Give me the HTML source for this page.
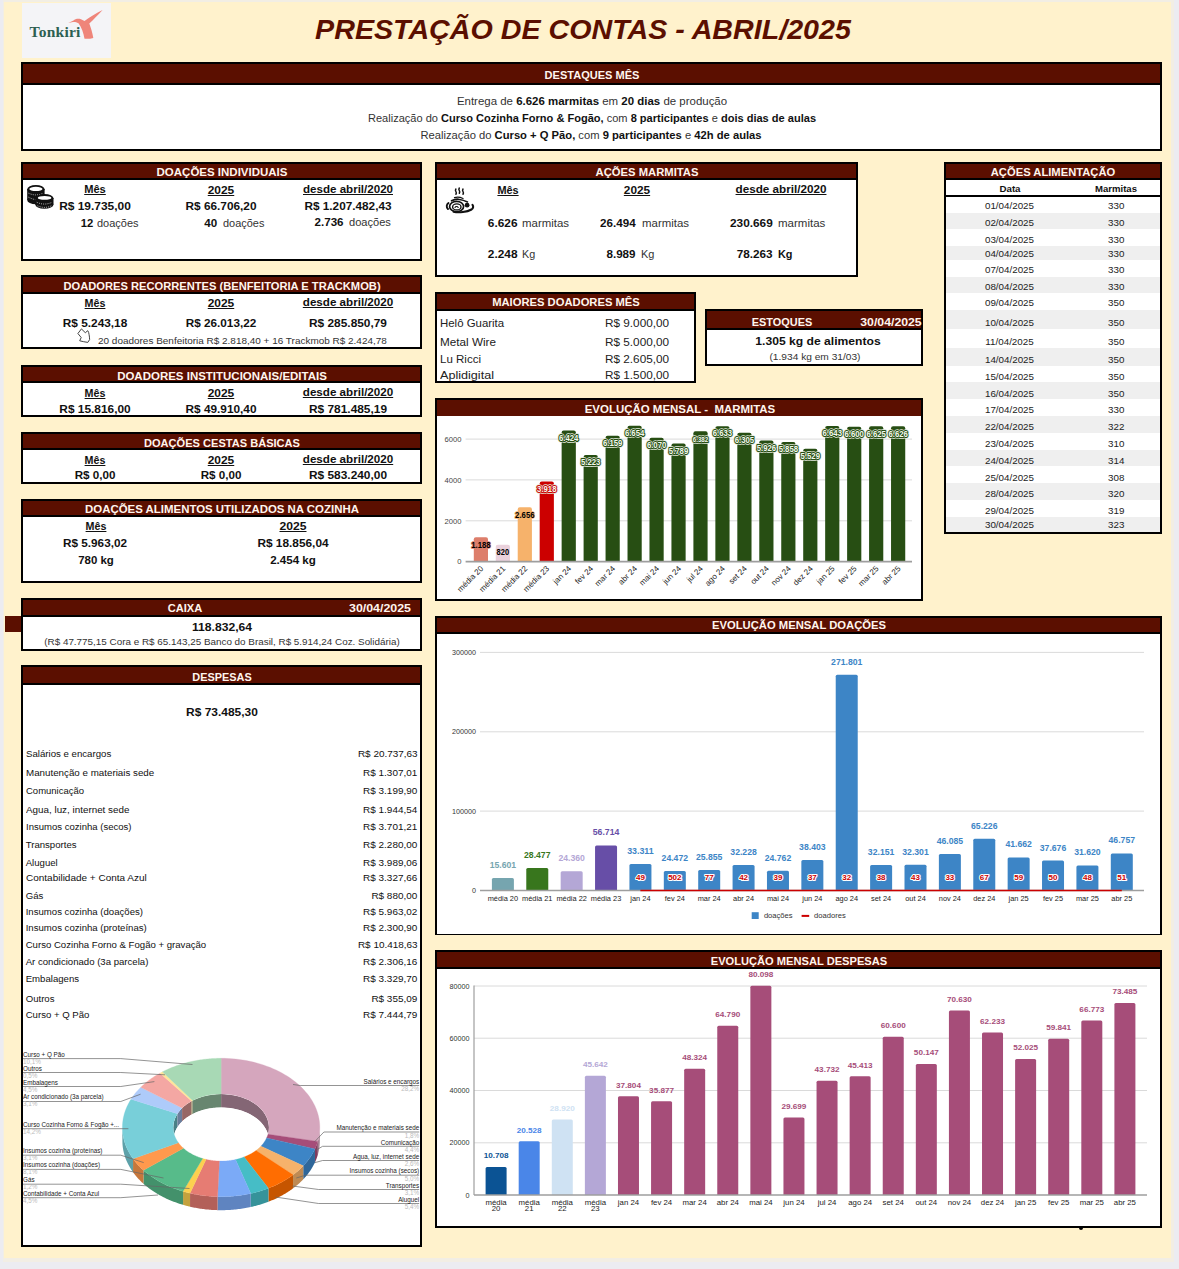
<!DOCTYPE html>
<html><head><meta charset="utf-8"><style>
html,body{margin:0;padding:0;}
body{width:1179px;height:1269px;position:relative;overflow:hidden;background:#EDEDF2;font-family:"Liberation Sans", sans-serif;}
.t{position:absolute;white-space:nowrap;}
.box{position:absolute;box-sizing:border-box;background:#fff;}
.hdr{position:absolute;background:#5B0F00;}
.hline{position:absolute;}
.u{text-decoration:underline;text-underline-offset:0.6px;text-decoration-thickness:1px;}
svg{position:absolute;}
</style></head><body>
<div style="position:absolute;left:0px;top:0px;width:1179px;height:1269px;background:#ECECF1;"></div>
<div style="position:absolute;left:3px;top:0px;width:1171px;height:1262px;background:#F2EEE4;"></div>
<div style="position:absolute;left:4px;top:2px;width:1167px;height:1256px;background:#FFF2CC;"></div>
<div style="position:absolute;left:22px;top:3px;width:89px;height:55px;background:#F4F4F7;"></div>
<svg style="left:22px;top:3px" width="89" height="55" viewBox="22 3 89 55"><path d="M68.3 23 L73.5 20.6 C75 19 78 18.3 81 19.2 L84.5 21 C90 17 96 13 102.6 10 C98 15 93 20 89.3 23.6 C91 28 92.5 33 93.3 38 C90.5 38.8 87 39 84.5 38.7 C83.5 33 81.5 27 78.5 23.2 C76.5 22 74.5 21.8 73 22 Z" fill="#EF857A"/></svg>
<div class="t " style="top:22.13px;font-size:15.5px;line-height:19px;color:#2C5F52;font-weight:bold;left:29.5px;font-family:'Liberation Serif',serif;letter-spacing:0.25px;">Tonkiri</div>
<div class="t " style="top:12.88px;font-size:27.2px;line-height:34px;color:#5B0F00;left:183px;width:800px;text-align:center;transform:scaleX(1.0534);transform-origin:center;font-style:italic;"><span style="font-weight:bold;">PRESTAÇÃO DE CONTAS - ABRIL/2025</span></div>
<div class="box" style="left:21px;top:62px;width:1141px;height:89px;border:2px solid #000;"></div>
<div class="hdr" style="left:23px;top:64px;width:1137px;height:19px;"></div>
<div class="hline" style="left:21px;top:83px;width:1141px;height:2px;background:#000"></div>
<div class="t " style="top:69.26px;font-size:10.5px;line-height:13px;color:#FFF5EE;font-weight:bold;left:191.89999999999998px;width:800px;text-align:center;transform:scaleX(1.0506);transform-origin:center;">DESTAQUES MÊS</div>
<div class="t " style="top:94.12px;font-size:11.2px;line-height:14px;color:#333;left:191.5px;width:800px;text-align:center;transform:scaleX(1.0246);transform-origin:center;">Entrega de <span style="font-weight:bold;color:#111;">6.626 marmitas</span> em <span style="font-weight:bold;color:#111;">20 dias</span> de produção</div>
<div class="t " style="top:111.02px;font-size:11.2px;line-height:14px;color:#333;left:191.79999999999995px;width:800px;text-align:center;transform:scaleX(0.9872);transform-origin:center;">Realização do <span style="font-weight:bold;color:#111;">Curso Cozinha Forno &amp; Fogão,</span> com <span style="font-weight:bold;color:#111;">8 participantes</span> e <span style="font-weight:bold;color:#111;">dois dias de aulas</span></div>
<div class="t " style="top:128.02px;font-size:11.2px;line-height:14px;color:#333;left:191.29999999999995px;width:800px;text-align:center;transform:scaleX(1.002);transform-origin:center;">Realização do <span style="font-weight:bold;color:#111;">Curso + Q Pão,</span> com <span style="font-weight:bold;color:#111;">9 participantes</span> e <span style="font-weight:bold;color:#111;">42h de aulas</span></div>
<div class="box" style="left:21px;top:162px;width:401px;height:99px;border:2px solid #000;"></div>
<div class="hdr" style="left:23px;top:164px;width:397px;height:14px;"></div>
<div class="hline" style="left:21px;top:178px;width:401px;height:2px;background:#000"></div>
<div class="t " style="top:164.86px;font-size:10.8px;line-height:14px;color:#FFF5EE;font-weight:bold;left:-178.25px;width:800px;text-align:center;transform:scaleX(1.0641);transform-origin:center;">DOAÇÕES INDIVIDUAIS</div>
<div class="t " style="top:183.46px;font-size:10.5px;line-height:13px;color:#111;font-weight:bold;left:-305.2px;width:800px;text-align:center;transform:scaleX(1.0575);transform-origin:center;"><span class="u">Mês</span></div>
<div class="t " style="top:183.76px;font-size:10.5px;line-height:13px;color:#111;font-weight:bold;left:-179px;width:800px;text-align:center;transform:scaleX(1.1345);transform-origin:center;"><span class="u">2025</span></div>
<div class="t " style="top:183.26px;font-size:10.5px;line-height:13px;color:#111;font-weight:bold;left:-52px;width:800px;text-align:center;transform:scaleX(1.1014);transform-origin:center;"><span class="u">desde abril/2020</span></div>
<div class="t " style="top:198.99px;font-size:11.0px;line-height:14px;color:#111;font-weight:bold;left:-304.8px;width:800px;text-align:center;transform:scaleX(1.0855);transform-origin:center;">R$ 19.735,00</div>
<div class="t " style="top:199.09px;font-size:11.0px;line-height:14px;color:#111;font-weight:bold;left:-179px;width:800px;text-align:center;transform:scaleX(1.0734);transform-origin:center;">R$ 66.706,20</div>
<div class="t " style="top:198.99px;font-size:11.0px;line-height:14px;color:#111;font-weight:bold;left:-52.19999999999999px;width:800px;text-align:center;transform:scaleX(1.0695);transform-origin:center;">R$ 1.207.482,43</div>
<div class="t " style="top:215.99px;font-size:11.0px;line-height:14px;color:#111;font-weight:bold;right:1086px;text-align:right;transform:scaleX(1.0216);transform-origin:right;">12</div>
<div class="t " style="top:215.99px;font-size:11.0px;line-height:14px;color:#333;left:97px;transform:scaleX(0.9979);transform-origin:left;">doações</div>
<div class="t " style="top:216.39px;font-size:11.0px;line-height:14px;color:#111;font-weight:bold;right:961.7px;text-align:right;transform:scaleX(1.0543);transform-origin:right;">40</div>
<div class="t " style="top:216.39px;font-size:11.0px;line-height:14px;color:#333;left:222.8px;transform:scaleX(0.9955);transform-origin:left;">doações</div>
<div class="t " style="top:215.49px;font-size:11.0px;line-height:14px;color:#111;font-weight:bold;right:835px;text-align:right;transform:scaleX(1.0535);transform-origin:right;">2.736</div>
<div class="t " style="top:215.49px;font-size:11.0px;line-height:14px;color:#333;left:349px;transform:scaleX(1.0075);transform-origin:left;">doações</div>
<svg style="left:25px;top:184px" width="32" height="28" viewBox="0 0 32 28"><g fill="#111"><ellipse cx="10.9" cy="5.2" rx="8.7" ry="4.3"/><rect x="2.2" y="5.2" width="17.4" height="10.8"/><ellipse cx="10.9" cy="16" rx="8.7" ry="4.3"/></g><ellipse cx="10.9" cy="4.9" rx="6.6" ry="2.1" fill="#fff"/><g fill="none" stroke="#fff" stroke-width="0.8" stroke-dasharray="0.9 1.3"><path d="M3.5 9.2 Q10.9 12.6 18.3 9.2"/><path d="M3.5 13.2 Q8 15.5 12 15.8"/></g><g fill="#111" stroke="#fff" stroke-width="0.0"><ellipse cx="19.4" cy="14.3" rx="9.1" ry="4.3"/><rect x="10.3" y="14.3" width="18.2" height="6.2"/><ellipse cx="19.4" cy="20.5" rx="9.1" ry="4.3"/></g><ellipse cx="19.6" cy="13.9" rx="6.8" ry="1.9" fill="#fff"/><g fill="none" stroke="#fff" stroke-width="0.8" stroke-dasharray="0.9 1.3"><path d="M11.8 18.3 Q19.4 21.8 27 18.3"/><path d="M12.5 21.8 Q19.4 25 26.5 21.8"/></g></svg>
<div class="box" style="left:21px;top:275px;width:401px;height:74px;border:2px solid #000;"></div>
<div class="hdr" style="left:23px;top:277px;width:397px;height:15px;"></div>
<div class="hline" style="left:21px;top:292px;width:401px;height:2px;background:#000"></div>
<div class="t " style="top:279.26px;font-size:10.8px;line-height:14px;color:#FFF5EE;font-weight:bold;left:-178.45000000000002px;width:800px;text-align:center;transform:scaleX(1.0328);transform-origin:center;">DOADORES RECORRENTES (BENFEITORIA E TRACKMOB)</div>
<div class="t " style="top:296.86px;font-size:10.5px;line-height:13px;color:#111;font-weight:bold;left:-304.6px;width:800px;text-align:center;transform:scaleX(1.0183);transform-origin:center;"><span class="u">Mês</span></div>
<div class="t " style="top:296.66px;font-size:10.5px;line-height:13px;color:#111;font-weight:bold;left:-179px;width:800px;text-align:center;transform:scaleX(1.1345);transform-origin:center;"><span class="u">2025</span></div>
<div class="t " style="top:296.46px;font-size:10.5px;line-height:13px;color:#111;font-weight:bold;left:-52.19999999999999px;width:800px;text-align:center;transform:scaleX(1.1063);transform-origin:center;"><span class="u">desde abril/2020</span></div>
<div class="t " style="top:315.99px;font-size:11.0px;line-height:14px;color:#111;font-weight:bold;left:-304.8px;width:800px;text-align:center;transform:scaleX(1.0761);transform-origin:center;">R$ 5.243,18</div>
<div class="t " style="top:315.79px;font-size:11.0px;line-height:14px;color:#111;font-weight:bold;left:-179px;width:800px;text-align:center;transform:scaleX(1.0673);transform-origin:center;">R$ 26.013,22</div>
<div class="t " style="top:315.69px;font-size:11.0px;line-height:14px;color:#111;font-weight:bold;left:-52.39999999999998px;width:800px;text-align:center;transform:scaleX(1.0794);transform-origin:center;">R$ 285.850,79</div>
<div class="t " style="top:334.91px;font-size:9.2px;line-height:12px;color:#333;left:97.7px;transform:scaleX(1.0843);transform-origin:left;">20 doadores Benfeitoria R$ 2.818,40 + 16 Trackmob R$ 2.424,78</div>
<svg style="left:76px;top:328px" width="16" height="17" viewBox="0 0 16 17"><path d="M5.45 0.9 L9.3 4.7 L11.8 2.7 C12.6 4 13 5.3 13.1 6.7 C13.4 8.3 13.6 10 13.6 11.6 L11.8 14.4 C9 14 6.5 13.5 3.7 12.8 L5.2 9.5 L1.9 5.5 Z" fill="none" stroke="#444" stroke-width="1.0" stroke-linejoin="round"/></svg>
<div class="box" style="left:21px;top:365px;width:401px;height:52px;border:2px solid #000;"></div>
<div class="hdr" style="left:23px;top:367px;width:397px;height:14px;"></div>
<div class="hline" style="left:21px;top:381px;width:401px;height:2px;background:#000"></div>
<div class="t " style="top:369.26px;font-size:10.8px;line-height:14px;color:#FFF5EE;font-weight:bold;left:-177.9px;width:800px;text-align:center;transform:scaleX(1.0638);transform-origin:center;">DOADORES INSTITUCIONAIS/EDITAIS</div>
<div class="t " style="top:386.86px;font-size:10.5px;line-height:13px;color:#111;font-weight:bold;left:-304.6px;width:800px;text-align:center;transform:scaleX(1.0183);transform-origin:center;"><span class="u">Mês</span></div>
<div class="t " style="top:386.66px;font-size:10.5px;line-height:13px;color:#111;font-weight:bold;left:-179px;width:800px;text-align:center;transform:scaleX(1.1345);transform-origin:center;"><span class="u">2025</span></div>
<div class="t " style="top:386.46px;font-size:10.5px;line-height:13px;color:#111;font-weight:bold;left:-52.19999999999999px;width:800px;text-align:center;transform:scaleX(1.1063);transform-origin:center;"><span class="u">desde abril/2020</span></div>
<div class="t " style="top:401.79px;font-size:11.0px;line-height:14px;color:#111;font-weight:bold;left:-304.8px;width:800px;text-align:center;transform:scaleX(1.0794);transform-origin:center;">R$ 15.816,00</div>
<div class="t " style="top:401.79px;font-size:11.0px;line-height:14px;color:#111;font-weight:bold;left:-179px;width:800px;text-align:center;transform:scaleX(1.0749);transform-origin:center;">R$ 49.910,40</div>
<div class="t " style="top:401.79px;font-size:11.0px;line-height:14px;color:#111;font-weight:bold;left:-52.39999999999998px;width:800px;text-align:center;transform:scaleX(1.0808);transform-origin:center;">R$ 781.485,19</div>
<div class="box" style="left:21px;top:432px;width:401px;height:52px;border:2px solid #000;"></div>
<div class="hdr" style="left:23px;top:434px;width:397px;height:14px;"></div>
<div class="hline" style="left:21px;top:448px;width:401px;height:2px;background:#000"></div>
<div class="t " style="top:435.76px;font-size:10.8px;line-height:14px;color:#FFF5EE;font-weight:bold;left:-178.2px;width:800px;text-align:center;transform:scaleX(1.0248);transform-origin:center;">DOAÇÕES CESTAS BÁSICAS</div>
<div class="t " style="top:453.66px;font-size:10.5px;line-height:13px;color:#111;font-weight:bold;left:-304.6px;width:800px;text-align:center;transform:scaleX(1.0183);transform-origin:center;"><span class="u">Mês</span></div>
<div class="t " style="top:453.66px;font-size:10.5px;line-height:13px;color:#111;font-weight:bold;left:-179px;width:800px;text-align:center;transform:scaleX(1.1345);transform-origin:center;"><span class="u">2025</span></div>
<div class="t " style="top:453.46px;font-size:10.5px;line-height:13px;color:#111;font-weight:bold;left:-52.19999999999999px;width:800px;text-align:center;transform:scaleX(1.1063);transform-origin:center;"><span class="u">desde abril/2020</span></div>
<div class="t " style="top:467.89px;font-size:11.0px;line-height:14px;color:#111;font-weight:bold;left:-304.8px;width:800px;text-align:center;transform:scaleX(1.0564);transform-origin:center;">R$ 0,00</div>
<div class="t " style="top:467.89px;font-size:11.0px;line-height:14px;color:#111;font-weight:bold;left:-179px;width:800px;text-align:center;transform:scaleX(1.0564);transform-origin:center;">R$ 0,00</div>
<div class="t " style="top:467.89px;font-size:11.0px;line-height:14px;color:#111;font-weight:bold;left:-52.39999999999998px;width:800px;text-align:center;transform:scaleX(1.0808);transform-origin:center;">R$ 583.240,00</div>
<div class="box" style="left:21px;top:499px;width:401px;height:84px;border:2px solid #000;"></div>
<div class="hdr" style="left:23px;top:501px;width:397px;height:14px;"></div>
<div class="hline" style="left:21px;top:515px;width:401px;height:2px;background:#000"></div>
<div class="t " style="top:502.06px;font-size:10.8px;line-height:14px;color:#FFF5EE;font-weight:bold;left:-177.75px;width:800px;text-align:center;transform:scaleX(1.0583);transform-origin:center;">DOAÇÕES ALIMENTOS UTILIZADOS NA COZINHA</div>
<div class="t " style="top:520.46px;font-size:10.5px;line-height:13px;color:#111;font-weight:bold;left:-304.5px;width:800px;text-align:center;transform:scaleX(1.0183);transform-origin:center;"><span class="u">Mês</span></div>
<div class="t " style="top:520.46px;font-size:10.5px;line-height:13px;color:#111;font-weight:bold;left:-106.80000000000001px;width:800px;text-align:center;transform:scaleX(1.1559);transform-origin:center;"><span class="u">2025</span></div>
<div class="t " style="top:536.39px;font-size:11.0px;line-height:14px;color:#111;font-weight:bold;left:-304.6px;width:800px;text-align:center;transform:scaleX(1.0678);transform-origin:center;">R$ 5.963,02</div>
<div class="t " style="top:536.39px;font-size:11.0px;line-height:14px;color:#111;font-weight:bold;left:-106.80000000000001px;width:800px;text-align:center;transform:scaleX(1.0779);transform-origin:center;">R$ 18.856,04</div>
<div class="t " style="top:553.39px;font-size:11.0px;line-height:14px;color:#111;font-weight:bold;left:-304.5px;width:800px;text-align:center;transform:scaleX(1.0395);transform-origin:center;">780 kg</div>
<div class="t " style="top:553.39px;font-size:11.0px;line-height:14px;color:#111;font-weight:bold;left:-106.80000000000001px;width:800px;text-align:center;transform:scaleX(1.0525);transform-origin:center;">2.454 kg</div>
<div style="position:absolute;left:5px;top:616px;width:17px;height:16px;background:#5B0F00;"></div>
<div class="box" style="left:21px;top:598px;width:401px;height:53px;border:2px solid #000;"></div>
<div class="hdr" style="left:23px;top:600px;width:397px;height:15px;"></div>
<div class="hline" style="left:21px;top:615px;width:401px;height:2px;background:#000"></div>
<div class="t " style="top:601.16px;font-size:10.8px;line-height:14px;color:#FFF5EE;font-weight:bold;left:-214.89999999999998px;width:800px;text-align:center;transform:scaleX(1.0297);transform-origin:center;">CAIXA</div>
<div class="t " style="top:601.16px;font-size:10.8px;line-height:14px;color:#FFF5EE;font-weight:bold;left:-20.0px;width:800px;text-align:center;transform:scaleX(1.147);transform-origin:center;">30/04/2025</div>
<div class="t " style="top:619.99px;font-size:11.0px;line-height:14px;color:#111;font-weight:bold;left:-178.5px;width:800px;text-align:center;transform:scaleX(1.1038);transform-origin:center;">118.832,64</div>
<div class="t " style="top:636.78px;font-size:9.0px;line-height:11px;color:#333;left:-177.8px;width:800px;text-align:center;transform:scaleX(1.0965);transform-origin:center;">(R$ 47.775,15 Cora e R$ 65.143,25 Banco do Brasil, R$ 5.914,24 Coz. Solidária)</div>
<div class="box" style="left:21px;top:665px;width:401px;height:582px;border:2px solid #000;"></div>
<div class="hdr" style="left:23px;top:667px;width:397px;height:16px;"></div>
<div class="hline" style="left:21px;top:683px;width:401px;height:2px;background:#000"></div>
<div class="t " style="top:669.66px;font-size:10.8px;line-height:14px;color:#FFF5EE;font-weight:bold;left:-178.10000000000002px;width:800px;text-align:center;transform:scaleX(1.0099);transform-origin:center;">DESPESAS</div>
<div class="t " style="top:704.78px;font-size:11.6px;line-height:14px;color:#111;font-weight:bold;left:-178.1px;width:800px;text-align:center;transform:scaleX(1.0308);transform-origin:center;">R$ 73.485,30</div>
<div class="t " style="top:748.27px;font-size:9.6px;line-height:12px;color:#111;left:25.7px;transform:scaleX(1.0053);transform-origin:left;">Salários e encargos</div>
<div class="t " style="top:748.27px;font-size:9.6px;line-height:12px;color:#111;right:761.5px;text-align:right;transform:scaleX(1.036);transform-origin:right;">R$ 20.737,63</div>
<div class="t " style="top:766.67px;font-size:9.6px;line-height:12px;color:#111;left:25.7px;transform:scaleX(1.0187);transform-origin:left;">Manutenção e materiais sede</div>
<div class="t " style="top:766.67px;font-size:9.6px;line-height:12px;color:#111;right:761.5px;text-align:right;transform:scaleX(1.036);transform-origin:right;">R$ 1.307,01</div>
<div class="t " style="top:784.67px;font-size:9.6px;line-height:12px;color:#111;left:25.7px;transform:scaleX(0.9898);transform-origin:left;">Comunicação</div>
<div class="t " style="top:784.67px;font-size:9.6px;line-height:12px;color:#111;right:761.5px;text-align:right;transform:scaleX(1.036);transform-origin:right;">R$ 3.199,90</div>
<div class="t " style="top:803.67px;font-size:9.6px;line-height:12px;color:#111;left:25.7px;transform:scaleX(1.0261);transform-origin:left;">Agua, luz, internet sede</div>
<div class="t " style="top:803.67px;font-size:9.6px;line-height:12px;color:#111;right:761.5px;text-align:right;transform:scaleX(1.036);transform-origin:right;">R$ 1.944,54</div>
<div class="t " style="top:821.27px;font-size:9.6px;line-height:12px;color:#111;left:25.7px;transform:scaleX(0.9946);transform-origin:left;">Insumos cozinha (secos)</div>
<div class="t " style="top:821.27px;font-size:9.6px;line-height:12px;color:#111;right:761.5px;text-align:right;transform:scaleX(1.036);transform-origin:right;">R$ 3.701,21</div>
<div class="t " style="top:838.57px;font-size:9.6px;line-height:12px;color:#111;left:25.7px;transform:scaleX(1.0);transform-origin:left;">Transportes</div>
<div class="t " style="top:838.57px;font-size:9.6px;line-height:12px;color:#111;right:761.5px;text-align:right;transform:scaleX(1.036);transform-origin:right;">R$ 2.280,00</div>
<div class="t " style="top:856.67px;font-size:9.6px;line-height:12px;color:#111;left:25.7px;transform:scaleX(1.0);transform-origin:left;">Aluguel</div>
<div class="t " style="top:856.67px;font-size:9.6px;line-height:12px;color:#111;right:761.5px;text-align:right;transform:scaleX(1.036);transform-origin:right;">R$ 3.989,06</div>
<div class="t " style="top:872.47px;font-size:9.6px;line-height:12px;color:#111;left:25.7px;transform:scaleX(1.0406);transform-origin:left;">Contabilidade + Conta Azul</div>
<div class="t " style="top:872.47px;font-size:9.6px;line-height:12px;color:#111;right:761.5px;text-align:right;transform:scaleX(1.036);transform-origin:right;">R$ 3.327,66</div>
<div class="t " style="top:889.87px;font-size:9.6px;line-height:12px;color:#111;left:25.7px;transform:scaleX(1.0);transform-origin:left;">Gás</div>
<div class="t " style="top:889.87px;font-size:9.6px;line-height:12px;color:#111;right:761.5px;text-align:right;transform:scaleX(1.036);transform-origin:right;">R$ 880,00</div>
<div class="t " style="top:906.17px;font-size:9.6px;line-height:12px;color:#111;left:25.7px;transform:scaleX(1.0);transform-origin:left;">Insumos cozinha (doações)</div>
<div class="t " style="top:906.17px;font-size:9.6px;line-height:12px;color:#111;right:761.5px;text-align:right;transform:scaleX(1.036);transform-origin:right;">R$ 5.963,02</div>
<div class="t " style="top:922.47px;font-size:9.6px;line-height:12px;color:#111;left:25.7px;transform:scaleX(1.0);transform-origin:left;">Insumos cozinha (proteínas)</div>
<div class="t " style="top:922.47px;font-size:9.6px;line-height:12px;color:#111;right:761.5px;text-align:right;transform:scaleX(1.036);transform-origin:right;">R$ 2.300,90</div>
<div class="t " style="top:939.17px;font-size:9.6px;line-height:12px;color:#111;left:25.7px;transform:scaleX(1.0);transform-origin:left;">Curso Cozinha Forno &amp; Fogão + gravação</div>
<div class="t " style="top:939.17px;font-size:9.6px;line-height:12px;color:#111;right:761.5px;text-align:right;transform:scaleX(1.036);transform-origin:right;">R$ 10.418,63</div>
<div class="t " style="top:956.37px;font-size:9.6px;line-height:12px;color:#111;left:25.7px;transform:scaleX(1.0);transform-origin:left;">Ar condicionado (3a parcela)</div>
<div class="t " style="top:956.37px;font-size:9.6px;line-height:12px;color:#111;right:761.5px;text-align:right;transform:scaleX(1.036);transform-origin:right;">R$ 2.306,16</div>
<div class="t " style="top:973.07px;font-size:9.6px;line-height:12px;color:#111;left:25.7px;transform:scaleX(1.0);transform-origin:left;">Embalagens</div>
<div class="t " style="top:973.07px;font-size:9.6px;line-height:12px;color:#111;right:761.5px;text-align:right;transform:scaleX(1.036);transform-origin:right;">R$ 3.329,70</div>
<div class="t " style="top:993.07px;font-size:9.6px;line-height:12px;color:#111;left:25.7px;transform:scaleX(1.0);transform-origin:left;">Outros</div>
<div class="t " style="top:993.07px;font-size:9.6px;line-height:12px;color:#111;right:761.5px;text-align:right;transform:scaleX(1.036);transform-origin:right;">R$ 355,09</div>
<div class="t " style="top:1009.27px;font-size:9.6px;line-height:12px;color:#111;left:25.7px;transform:scaleX(1.0);transform-origin:left;">Curso + Q Pão</div>
<div class="t " style="top:1009.27px;font-size:9.6px;line-height:12px;color:#111;right:761.5px;text-align:right;transform:scaleX(1.036);transform-origin:right;">R$ 7.444,79</div>
<div class="box" style="left:435px;top:162px;width:423px;height:115px;border:2px solid #000;"></div>
<div class="hdr" style="left:437px;top:164px;width:419px;height:14px;"></div>
<div class="hline" style="left:435px;top:178px;width:423px;height:2px;background:#000"></div>
<div class="t " style="top:165.36px;font-size:10.8px;line-height:14px;color:#FFF5EE;font-weight:bold;left:246.8499999999999px;width:800px;text-align:center;transform:scaleX(1.0415);transform-origin:center;">AÇÕES MARMITAS</div>
<div class="t " style="top:183.86px;font-size:10.5px;line-height:13px;color:#111;font-weight:bold;left:108.39999999999998px;width:800px;text-align:center;transform:scaleX(1.0379);transform-origin:center;"><span class="u">Mês</span></div>
<div class="t " style="top:183.86px;font-size:10.5px;line-height:13px;color:#111;font-weight:bold;left:237.39999999999998px;width:800px;text-align:center;transform:scaleX(1.1259);transform-origin:center;"><span class="u">2025</span></div>
<div class="t " style="top:183.46px;font-size:10.5px;line-height:13px;color:#111;font-weight:bold;left:381.20000000000005px;width:800px;text-align:center;transform:scaleX(1.1124);transform-origin:center;"><span class="u">desde abril/2020</span></div>
<div class="t " style="top:215.89px;font-size:11.0px;line-height:14px;color:#111;font-weight:bold;right:661.7px;text-align:right;transform:scaleX(1.0789);transform-origin:right;">6.626</div>
<div class="t " style="top:215.89px;font-size:11.0px;line-height:14px;color:#333;left:522px;transform:scaleX(1.0392);transform-origin:left;">marmitas</div>
<div class="t " style="top:215.89px;font-size:11.0px;line-height:14px;color:#111;font-weight:bold;right:543px;text-align:right;transform:scaleX(1.0581);transform-origin:right;">26.494</div>
<div class="t " style="top:215.89px;font-size:11.0px;line-height:14px;color:#333;left:642px;transform:scaleX(1.0392);transform-origin:left;">marmitas</div>
<div class="t " style="top:215.89px;font-size:11.0px;line-height:14px;color:#111;font-weight:bold;right:406.6px;text-align:right;transform:scaleX(1.0764);transform-origin:right;">230.669</div>
<div class="t " style="top:215.89px;font-size:11.0px;line-height:14px;color:#333;left:777.7px;transform:scaleX(1.0459);transform-origin:left;">marmitas</div>
<div class="t " style="top:247.19px;font-size:11.0px;line-height:14px;color:#111;font-weight:bold;right:661.7px;text-align:right;transform:scaleX(1.0789);transform-origin:right;">2.248</div>
<div class="t " style="top:247.19px;font-size:11.0px;line-height:14px;color:#333;left:522px;transform:scaleX(0.9811);transform-origin:left;">Kg</div>
<div class="t " style="top:247.19px;font-size:11.0px;line-height:14px;color:#111;font-weight:bold;right:543px;text-align:right;transform:scaleX(1.0571);transform-origin:right;">8.989</div>
<div class="t " style="top:247.19px;font-size:11.0px;line-height:14px;color:#333;left:641px;transform:scaleX(0.9959);transform-origin:left;">Kg</div>
<div class="t " style="top:246.89px;font-size:11.0px;line-height:14px;color:#111;font-weight:bold;right:406.6px;text-align:right;transform:scaleX(1.067);transform-origin:right;">78.263</div>
<div class="t " style="top:246.89px;font-size:11.0px;line-height:14px;color:#111;font-weight:bold;left:777.7px;transform:scaleX(0.9889);transform-origin:left;">Kg</div>
<svg style="left:444px;top:186px" width="32" height="28" viewBox="0 0 32 28"><g fill="none" stroke="#111" stroke-linecap="round"><path d="M11.9 3 q-0.9 1.3 0 2.6 q0.9 1.3 0 2.6" stroke-width="1.5"/><path d="M15.3 2 q-0.9 1.3 0 2.6 q0.9 1.3 0 2.6" stroke-width="1.5"/><path d="M19 3 q-0.9 1.3 0 2.6 q0.9 1.3 0 2.6" stroke-width="1.5"/><path d="M9.5 25.8 C15 27 23 26 27.5 23.5 C29.5 22 29.5 20 28.5 18.8" stroke-width="2.1"/><path d="M4 23 C2 21 2.5 18.5 4.5 17" stroke-width="1.9"/><ellipse cx="12.6" cy="20.5" rx="7" ry="5.2" stroke-width="1.7"/><ellipse cx="12.8" cy="20.9" rx="4.2" ry="3" stroke-width="1.4"/><path d="M11 21.5 C11.5 20.3 13.5 20.2 14.2 21.5" stroke-width="1.1"/><path d="M7.5 14.8 C10 13.5 13 12.5 15.5 13.5 C18 13.8 21 14.8 23.5 16" stroke-width="1.6"/><path d="M10.5 11.6 C13 10.8 16 11 19 12.5" stroke-width="1.3"/></g><circle cx="23.1" cy="19.2" r="2.4" fill="#111"/></svg>
<div class="box" style="left:435px;top:292px;width:261px;height:91px;border:2px solid #000;"></div>
<div class="hdr" style="left:437px;top:294px;width:257px;height:15px;"></div>
<div class="hline" style="left:435px;top:309px;width:261px;height:2px;background:#000"></div>
<div class="t " style="top:295.46px;font-size:10.8px;line-height:14px;color:#FFF5EE;font-weight:bold;left:166.14999999999998px;width:800px;text-align:center;transform:scaleX(1.0386);transform-origin:center;">MAIORES DOADORES MÊS</div>
<div class="t " style="top:316.29px;font-size:11.0px;line-height:14px;color:#222;left:439.5px;transform:scaleX(1.038);transform-origin:left;">Helô Guarita</div>
<div class="t " style="top:316.29px;font-size:11.0px;line-height:14px;color:#222;left:604.7px;transform:scaleX(1.0695);transform-origin:left;">R$ 9.000,00</div>
<div class="t " style="top:335.39px;font-size:11.0px;line-height:14px;color:#222;left:439.5px;transform:scaleX(1.0654);transform-origin:left;">Metal Wire</div>
<div class="t " style="top:335.39px;font-size:11.0px;line-height:14px;color:#222;left:604.7px;transform:scaleX(1.0695);transform-origin:left;">R$ 5.000,00</div>
<div class="t " style="top:352.19px;font-size:11.0px;line-height:14px;color:#222;left:439.5px;transform:scaleX(1.048);transform-origin:left;">Lu Ricci</div>
<div class="t " style="top:352.19px;font-size:11.0px;line-height:14px;color:#222;left:604.7px;transform:scaleX(1.0695);transform-origin:left;">R$ 2.605,00</div>
<div class="t " style="top:367.99px;font-size:11.0px;line-height:14px;color:#222;left:439.5px;transform:scaleX(1.1469);transform-origin:left;">Aplidigital</div>
<div class="t " style="top:367.99px;font-size:11.0px;line-height:14px;color:#222;left:604.7px;transform:scaleX(1.0695);transform-origin:left;">R$ 1.500,00</div>
<div class="box" style="left:705px;top:309px;width:218px;height:57px;border:2px solid #000;"></div>
<div class="hdr" style="left:707px;top:311px;width:214px;height:17px;"></div>
<div class="hline" style="left:705px;top:328px;width:218px;height:2px;background:#000"></div>
<div class="t " style="top:315.26px;font-size:10.8px;line-height:14px;color:#FFF5EE;font-weight:bold;left:381.95000000000005px;width:800px;text-align:center;transform:scaleX(1.0114);transform-origin:center;">ESTOQUES</div>
<div class="t " style="top:315.26px;font-size:10.8px;line-height:14px;color:#FFF5EE;font-weight:bold;left:490.70000000000005px;width:800px;text-align:center;transform:scaleX(1.1359);transform-origin:center;">30/04/2025</div>
<div class="t " style="top:334.09px;font-size:11.0px;line-height:14px;color:#111;font-weight:bold;left:418.29999999999995px;width:800px;text-align:center;transform:scaleX(1.1027);transform-origin:center;">1.305 kg de alimentos</div>
<div class="t " style="top:351.17px;font-size:9.6px;line-height:12px;color:#333;left:414.9px;width:800px;text-align:center;transform:scaleX(1.0603);transform-origin:center;">(1.934 kg em 31/03)</div>
<div class="box" style="left:944px;top:162px;width:218px;height:372px;border:2px solid #000;"></div>
<div class="hdr" style="left:946px;top:164px;width:214px;height:14px;"></div>
<div class="hline" style="left:944px;top:178px;width:218px;height:2px;background:#000"></div>
<div class="t " style="top:164.86px;font-size:10.8px;line-height:14px;color:#FFF5EE;font-weight:bold;left:653.3499999999999px;width:800px;text-align:center;transform:scaleX(1.0375);transform-origin:center;">AÇÕES ALIMENTAÇÃO</div>
<div style="position:absolute;left:944px;top:195px;width:218px;height:2px;background:#000;"></div>
<div class="t " style="top:183.47px;font-size:9.6px;line-height:12px;color:#111;font-weight:bold;left:609.5px;width:800px;text-align:center;transform:scaleX(1.014);transform-origin:center;">Data</div>
<div class="t " style="top:183.47px;font-size:9.6px;line-height:12px;color:#111;font-weight:bold;left:716px;width:800px;text-align:center;transform:scaleX(0.9964);transform-origin:center;">Marmitas</div>
<div style="position:absolute;left:946px;top:212.7px;width:214px;height:16.600000000000023px;background:#EFEFEF;"></div>
<div style="position:absolute;left:946px;top:245.8px;width:214px;height:14.699999999999989px;background:#EFEFEF;"></div>
<div style="position:absolute;left:946px;top:276.5px;width:214px;height:16.69999999999999px;background:#EFEFEF;"></div>
<div style="position:absolute;left:946px;top:309.8px;width:214px;height:19.5px;background:#EFEFEF;"></div>
<div style="position:absolute;left:946px;top:347.8px;width:214px;height:18.099999999999966px;background:#EFEFEF;"></div>
<div style="position:absolute;left:946px;top:382px;width:214px;height:17.100000000000023px;background:#EFEFEF;"></div>
<div style="position:absolute;left:946px;top:416.1px;width:214px;height:16.599999999999966px;background:#EFEFEF;"></div>
<div style="position:absolute;left:946px;top:449.6px;width:214px;height:16.799999999999955px;background:#EFEFEF;"></div>
<div style="position:absolute;left:946px;top:483px;width:214px;height:16.600000000000023px;background:#EFEFEF;"></div>
<div style="position:absolute;left:946px;top:516.6px;width:214px;height:15.600000000000023px;background:#EFEFEF;"></div>
<div class="t " style="top:200.30px;font-size:9.8px;line-height:12px;color:#222;left:609.5px;width:800px;text-align:center;">01/04/2025</div>
<div class="t " style="top:200.30px;font-size:9.8px;line-height:12px;color:#222;left:716.3px;width:800px;text-align:center;">330</div>
<div class="t " style="top:217.30px;font-size:9.8px;line-height:12px;color:#222;left:609.5px;width:800px;text-align:center;">02/04/2025</div>
<div class="t " style="top:217.30px;font-size:9.8px;line-height:12px;color:#222;left:716.3px;width:800px;text-align:center;">330</div>
<div class="t " style="top:234.10px;font-size:9.8px;line-height:12px;color:#222;left:609.5px;width:800px;text-align:center;">03/04/2025</div>
<div class="t " style="top:234.10px;font-size:9.8px;line-height:12px;color:#222;left:716.3px;width:800px;text-align:center;">330</div>
<div class="t " style="top:248.10px;font-size:9.8px;line-height:12px;color:#222;left:609.5px;width:800px;text-align:center;">04/04/2025</div>
<div class="t " style="top:248.10px;font-size:9.8px;line-height:12px;color:#222;left:716.3px;width:800px;text-align:center;">330</div>
<div class="t " style="top:264.30px;font-size:9.8px;line-height:12px;color:#222;left:609.5px;width:800px;text-align:center;">07/04/2025</div>
<div class="t " style="top:264.30px;font-size:9.8px;line-height:12px;color:#222;left:716.3px;width:800px;text-align:center;">330</div>
<div class="t " style="top:280.90px;font-size:9.8px;line-height:12px;color:#222;left:609.5px;width:800px;text-align:center;">08/04/2025</div>
<div class="t " style="top:280.90px;font-size:9.8px;line-height:12px;color:#222;left:716.3px;width:800px;text-align:center;">330</div>
<div class="t " style="top:297.30px;font-size:9.8px;line-height:12px;color:#222;left:609.5px;width:800px;text-align:center;">09/04/2025</div>
<div class="t " style="top:297.30px;font-size:9.8px;line-height:12px;color:#222;left:716.3px;width:800px;text-align:center;">350</div>
<div class="t " style="top:317.40px;font-size:9.8px;line-height:12px;color:#222;left:609.5px;width:800px;text-align:center;">10/04/2025</div>
<div class="t " style="top:317.40px;font-size:9.8px;line-height:12px;color:#222;left:716.3px;width:800px;text-align:center;">350</div>
<div class="t " style="top:335.90px;font-size:9.8px;line-height:12px;color:#222;left:609.5px;width:800px;text-align:center;">11/04/2025</div>
<div class="t " style="top:335.90px;font-size:9.8px;line-height:12px;color:#222;left:716.3px;width:800px;text-align:center;">350</div>
<div class="t " style="top:353.60px;font-size:9.8px;line-height:12px;color:#222;left:609.5px;width:800px;text-align:center;">14/04/2025</div>
<div class="t " style="top:353.60px;font-size:9.8px;line-height:12px;color:#222;left:716.3px;width:800px;text-align:center;">350</div>
<div class="t " style="top:370.60px;font-size:9.8px;line-height:12px;color:#222;left:609.5px;width:800px;text-align:center;">15/04/2025</div>
<div class="t " style="top:370.60px;font-size:9.8px;line-height:12px;color:#222;left:716.3px;width:800px;text-align:center;">350</div>
<div class="t " style="top:387.60px;font-size:9.8px;line-height:12px;color:#222;left:609.5px;width:800px;text-align:center;">16/04/2025</div>
<div class="t " style="top:387.60px;font-size:9.8px;line-height:12px;color:#222;left:716.3px;width:800px;text-align:center;">350</div>
<div class="t " style="top:404.30px;font-size:9.8px;line-height:12px;color:#222;left:609.5px;width:800px;text-align:center;">17/04/2025</div>
<div class="t " style="top:404.30px;font-size:9.8px;line-height:12px;color:#222;left:716.3px;width:800px;text-align:center;">330</div>
<div class="t " style="top:421.30px;font-size:9.8px;line-height:12px;color:#222;left:609.5px;width:800px;text-align:center;">22/04/2025</div>
<div class="t " style="top:421.30px;font-size:9.8px;line-height:12px;color:#222;left:716.3px;width:800px;text-align:center;">322</div>
<div class="t " style="top:437.50px;font-size:9.8px;line-height:12px;color:#222;left:609.5px;width:800px;text-align:center;">23/04/2025</div>
<div class="t " style="top:437.50px;font-size:9.8px;line-height:12px;color:#222;left:716.3px;width:800px;text-align:center;">310</div>
<div class="t " style="top:454.50px;font-size:9.8px;line-height:12px;color:#222;left:609.5px;width:800px;text-align:center;">24/04/2025</div>
<div class="t " style="top:454.50px;font-size:9.8px;line-height:12px;color:#222;left:716.3px;width:800px;text-align:center;">314</div>
<div class="t " style="top:471.50px;font-size:9.8px;line-height:12px;color:#222;left:609.5px;width:800px;text-align:center;">25/04/2025</div>
<div class="t " style="top:471.50px;font-size:9.8px;line-height:12px;color:#222;left:716.3px;width:800px;text-align:center;">308</div>
<div class="t " style="top:487.60px;font-size:9.8px;line-height:12px;color:#222;left:609.5px;width:800px;text-align:center;">28/04/2025</div>
<div class="t " style="top:487.60px;font-size:9.8px;line-height:12px;color:#222;left:716.3px;width:800px;text-align:center;">320</div>
<div class="t " style="top:504.60px;font-size:9.8px;line-height:12px;color:#222;left:609.5px;width:800px;text-align:center;">29/04/2025</div>
<div class="t " style="top:504.60px;font-size:9.8px;line-height:12px;color:#222;left:716.3px;width:800px;text-align:center;">319</div>
<div class="t " style="top:519.40px;font-size:9.8px;line-height:12px;color:#222;left:609.5px;width:800px;text-align:center;">30/04/2025</div>
<div class="t " style="top:519.40px;font-size:9.8px;line-height:12px;color:#222;left:716.3px;width:800px;text-align:center;">323</div>
<div class="box" style="left:435px;top:398px;width:488px;height:203px;border:2px solid #000;"></div>
<div class="hdr" style="left:437px;top:400px;width:484px;height:15.5px;"></div>
<div class="t " style="top:401.96px;font-size:10.8px;line-height:14px;color:#FFF5EE;font-weight:bold;left:280.29999999999995px;width:800px;text-align:center;transform:scaleX(1.0613);transform-origin:center;">EVOLUÇÃO MENSAL -  MARMITAS</div>
<svg style="left:0;top:0" width="1179" height="1269" viewBox="0 0 1179 1269"><line x1="465.6" x2="912" y1="520.8" y2="520.8" stroke="#DADADA" stroke-width="1"/><line x1="465.6" x2="912" y1="479.9" y2="479.9" stroke="#DADADA" stroke-width="1"/><line x1="465.6" x2="912" y1="439.1" y2="439.1" stroke="#DADADA" stroke-width="1"/><text x="461.5" y="564.3" font-size="7.6" fill="#444" text-anchor="end">0</text><text x="461.5" y="523.5" font-size="7.6" fill="#444" text-anchor="end">2000</text><text x="461.5" y="482.6" font-size="7.6" fill="#444" text-anchor="end">4000</text><text x="461.5" y="441.8" font-size="7.6" fill="#444" text-anchor="end">6000</text><path d="M473.80 561.6 V539.35 Q473.80 537.35 475.80 537.35 H486.00 Q488.00 537.35 488.00 539.35 V561.6 Z" fill="#DD7E6B"/><path d="M495.76 561.6 V546.86 Q495.76 544.86 497.76 544.86 H507.96 Q509.96 544.86 509.96 546.86 V561.6 Z" fill="#EAD1DC"/><path d="M517.72 561.6 V509.37 Q517.72 507.37 519.72 507.37 H529.92 Q531.92 507.37 531.92 509.37 V561.6 Z" fill="#F6B26B"/><path d="M539.68 561.6 V483.61 Q539.68 481.61 541.68 481.61 H551.88 Q553.88 481.61 553.88 483.61 V561.6 Z" fill="#CC0000"/><path d="M561.64 561.6 V432.44 Q561.64 430.44 563.64 430.44 H573.84 Q575.84 430.44 575.84 432.44 V561.6 Z" fill="#274E13"/><path d="M583.60 561.6 V456.96 Q583.60 454.96 585.60 454.96 H595.80 Q597.80 454.96 597.80 456.96 V561.6 Z" fill="#274E13"/><path d="M605.56 561.6 V437.85 Q605.56 435.85 607.56 435.85 H617.76 Q619.76 435.85 619.76 437.85 V561.6 Z" fill="#274E13"/><path d="M627.52 561.6 V427.75 Q627.52 425.75 629.52 425.75 H639.72 Q641.72 425.75 641.72 427.75 V561.6 Z" fill="#274E13"/><path d="M649.48 561.6 V439.67 Q649.48 437.67 651.48 437.67 H661.68 Q663.68 437.67 663.68 439.67 V561.6 Z" fill="#274E13"/><path d="M671.44 561.6 V445.41 Q671.44 443.41 673.44 443.41 H683.64 Q685.64 443.41 685.64 445.41 V561.6 Z" fill="#274E13"/><path d="M693.40 561.6 V433.30 Q693.40 431.30 695.40 431.30 H705.60 Q707.60 431.30 707.60 433.30 V561.6 Z" fill="#274E13"/><path d="M715.36 561.6 V428.18 Q715.36 426.18 717.36 426.18 H727.56 Q729.56 426.18 729.56 428.18 V561.6 Z" fill="#274E13"/><path d="M737.32 561.6 V434.87 Q737.32 432.87 739.32 432.87 H749.52 Q751.52 432.87 751.52 434.87 V561.6 Z" fill="#274E13"/><path d="M759.28 561.6 V442.61 Q759.28 440.61 761.28 440.61 H771.48 Q773.48 440.61 773.48 442.61 V561.6 Z" fill="#274E13"/><path d="M781.24 561.6 V444.00 Q781.24 442.00 783.24 442.00 H793.44 Q795.44 442.00 795.44 444.00 V561.6 Z" fill="#274E13"/><path d="M803.20 561.6 V450.72 Q803.20 448.72 805.20 448.72 H815.40 Q817.40 448.72 817.40 450.72 V561.6 Z" fill="#274E13"/><path d="M825.16 561.6 V427.97 Q825.16 425.97 827.16 425.97 H837.36 Q839.36 425.97 839.36 427.97 V561.6 Z" fill="#274E13"/><path d="M847.12 561.6 V428.85 Q847.12 426.85 849.12 426.85 H859.32 Q861.32 426.85 861.32 428.85 V561.6 Z" fill="#274E13"/><path d="M869.08 561.6 V428.34 Q869.08 426.34 871.08 426.34 H881.28 Q883.28 426.34 883.28 428.34 V561.6 Z" fill="#274E13"/><path d="M891.04 561.6 V428.32 Q891.04 426.32 893.04 426.32 H903.24 Q905.24 426.32 905.24 428.32 V561.6 Z" fill="#274E13"/><line x1="465.6" x2="912" y1="561.6" y2="561.6" stroke="#9E9E9E" stroke-width="1.6"/><text x="480.90" y="547.55" font-size="8.4" font-weight="bold" text-anchor="middle" textLength="19.4" lengthAdjust="spacingAndGlyphs" fill="#000" stroke="#DD7E6B" stroke-width="1.6" stroke-linejoin="round" paint-order="stroke">1.188</text><text x="502.86" y="555.06" font-size="8.4" font-weight="bold" text-anchor="middle" textLength="12.5" lengthAdjust="spacingAndGlyphs" fill="#000" stroke="#EAD1DC" stroke-width="1.6" stroke-linejoin="round" paint-order="stroke">820</text><text x="524.82" y="517.57" font-size="8.4" font-weight="bold" text-anchor="middle" textLength="19.4" lengthAdjust="spacingAndGlyphs" fill="#000" stroke="#F6B26B" stroke-width="1.6" stroke-linejoin="round" paint-order="stroke">2.656</text><text x="546.78" y="491.81" font-size="8.4" font-weight="bold" text-anchor="middle" textLength="19.4" lengthAdjust="spacingAndGlyphs" fill="#CC0000" stroke="#E2E8DC" stroke-width="3.4" stroke-linejoin="round">3.918</text><text x="546.78" y="491.81" font-size="8.4" font-weight="bold" text-anchor="middle" textLength="19.4" lengthAdjust="spacingAndGlyphs" fill="#F4FAEE" stroke="#CC0000" stroke-width="2.0" stroke-linejoin="round" paint-order="stroke">3.918</text><text x="568.74" y="440.64" font-size="8.4" font-weight="bold" text-anchor="middle" textLength="19.4" lengthAdjust="spacingAndGlyphs" fill="#274E13" stroke="#E2E8DC" stroke-width="3.4" stroke-linejoin="round">6.424</text><text x="568.74" y="440.64" font-size="8.4" font-weight="bold" text-anchor="middle" textLength="19.4" lengthAdjust="spacingAndGlyphs" fill="#F4FAEE" stroke="#274E13" stroke-width="2.0" stroke-linejoin="round" paint-order="stroke">6.424</text><text x="590.70" y="465.16" font-size="8.4" font-weight="bold" text-anchor="middle" textLength="19.4" lengthAdjust="spacingAndGlyphs" fill="#274E13" stroke="#E2E8DC" stroke-width="3.4" stroke-linejoin="round">5.223</text><text x="590.70" y="465.16" font-size="8.4" font-weight="bold" text-anchor="middle" textLength="19.4" lengthAdjust="spacingAndGlyphs" fill="#F4FAEE" stroke="#274E13" stroke-width="2.0" stroke-linejoin="round" paint-order="stroke">5.223</text><text x="612.66" y="446.05" font-size="8.4" font-weight="bold" text-anchor="middle" textLength="19.4" lengthAdjust="spacingAndGlyphs" fill="#274E13" stroke="#E2E8DC" stroke-width="3.4" stroke-linejoin="round">6.159</text><text x="612.66" y="446.05" font-size="8.4" font-weight="bold" text-anchor="middle" textLength="19.4" lengthAdjust="spacingAndGlyphs" fill="#F4FAEE" stroke="#274E13" stroke-width="2.0" stroke-linejoin="round" paint-order="stroke">6.159</text><text x="634.62" y="435.95" font-size="8.4" font-weight="bold" text-anchor="middle" textLength="19.4" lengthAdjust="spacingAndGlyphs" fill="#274E13" stroke="#E2E8DC" stroke-width="3.4" stroke-linejoin="round">6.654</text><text x="634.62" y="435.95" font-size="8.4" font-weight="bold" text-anchor="middle" textLength="19.4" lengthAdjust="spacingAndGlyphs" fill="#F4FAEE" stroke="#274E13" stroke-width="2.0" stroke-linejoin="round" paint-order="stroke">6.654</text><text x="656.58" y="447.87" font-size="8.4" font-weight="bold" text-anchor="middle" textLength="19.4" lengthAdjust="spacingAndGlyphs" fill="#274E13" stroke="#E2E8DC" stroke-width="3.4" stroke-linejoin="round">6.070</text><text x="656.58" y="447.87" font-size="8.4" font-weight="bold" text-anchor="middle" textLength="19.4" lengthAdjust="spacingAndGlyphs" fill="#F4FAEE" stroke="#274E13" stroke-width="2.0" stroke-linejoin="round" paint-order="stroke">6.070</text><text x="678.54" y="453.61" font-size="8.4" font-weight="bold" text-anchor="middle" textLength="19.4" lengthAdjust="spacingAndGlyphs" fill="#274E13" stroke="#E2E8DC" stroke-width="3.4" stroke-linejoin="round">5.789</text><text x="678.54" y="453.61" font-size="8.4" font-weight="bold" text-anchor="middle" textLength="19.4" lengthAdjust="spacingAndGlyphs" fill="#F4FAEE" stroke="#274E13" stroke-width="2.0" stroke-linejoin="round" paint-order="stroke">5.789</text><text x="700.50" y="441.50" font-size="6.6" font-weight="bold" text-anchor="middle" textLength="15.5" lengthAdjust="spacingAndGlyphs" fill="#274E13" stroke="#E2E8DC" stroke-width="3.4" stroke-linejoin="round">6.382</text><text x="700.50" y="441.50" font-size="6.6" font-weight="bold" text-anchor="middle" textLength="15.5" lengthAdjust="spacingAndGlyphs" fill="#F4FAEE" stroke="#274E13" stroke-width="2.0" stroke-linejoin="round" paint-order="stroke">6.382</text><text x="722.46" y="436.38" font-size="8.4" font-weight="bold" text-anchor="middle" textLength="19.4" lengthAdjust="spacingAndGlyphs" fill="#274E13" stroke="#E2E8DC" stroke-width="3.4" stroke-linejoin="round">6.633</text><text x="722.46" y="436.38" font-size="8.4" font-weight="bold" text-anchor="middle" textLength="19.4" lengthAdjust="spacingAndGlyphs" fill="#F4FAEE" stroke="#274E13" stroke-width="2.0" stroke-linejoin="round" paint-order="stroke">6.633</text><text x="744.42" y="443.07" font-size="8.4" font-weight="bold" text-anchor="middle" textLength="19.4" lengthAdjust="spacingAndGlyphs" fill="#274E13" stroke="#E2E8DC" stroke-width="3.4" stroke-linejoin="round">6.305</text><text x="744.42" y="443.07" font-size="8.4" font-weight="bold" text-anchor="middle" textLength="19.4" lengthAdjust="spacingAndGlyphs" fill="#F4FAEE" stroke="#274E13" stroke-width="2.0" stroke-linejoin="round" paint-order="stroke">6.305</text><text x="766.38" y="450.81" font-size="8.4" font-weight="bold" text-anchor="middle" textLength="19.4" lengthAdjust="spacingAndGlyphs" fill="#274E13" stroke="#E2E8DC" stroke-width="3.4" stroke-linejoin="round">5.926</text><text x="766.38" y="450.81" font-size="8.4" font-weight="bold" text-anchor="middle" textLength="19.4" lengthAdjust="spacingAndGlyphs" fill="#F4FAEE" stroke="#274E13" stroke-width="2.0" stroke-linejoin="round" paint-order="stroke">5.926</text><text x="788.34" y="452.20" font-size="8.4" font-weight="bold" text-anchor="middle" textLength="19.4" lengthAdjust="spacingAndGlyphs" fill="#274E13" stroke="#E2E8DC" stroke-width="3.4" stroke-linejoin="round">5.858</text><text x="788.34" y="452.20" font-size="8.4" font-weight="bold" text-anchor="middle" textLength="19.4" lengthAdjust="spacingAndGlyphs" fill="#F4FAEE" stroke="#274E13" stroke-width="2.0" stroke-linejoin="round" paint-order="stroke">5.858</text><text x="810.30" y="458.92" font-size="8.4" font-weight="bold" text-anchor="middle" textLength="19.4" lengthAdjust="spacingAndGlyphs" fill="#274E13" stroke="#E2E8DC" stroke-width="3.4" stroke-linejoin="round">5.529</text><text x="810.30" y="458.92" font-size="8.4" font-weight="bold" text-anchor="middle" textLength="19.4" lengthAdjust="spacingAndGlyphs" fill="#F4FAEE" stroke="#274E13" stroke-width="2.0" stroke-linejoin="round" paint-order="stroke">5.529</text><text x="832.26" y="436.17" font-size="8.4" font-weight="bold" text-anchor="middle" textLength="19.4" lengthAdjust="spacingAndGlyphs" fill="#274E13" stroke="#E2E8DC" stroke-width="3.4" stroke-linejoin="round">6.643</text><text x="832.26" y="436.17" font-size="8.4" font-weight="bold" text-anchor="middle" textLength="19.4" lengthAdjust="spacingAndGlyphs" fill="#F4FAEE" stroke="#274E13" stroke-width="2.0" stroke-linejoin="round" paint-order="stroke">6.643</text><text x="854.22" y="437.05" font-size="8.4" font-weight="bold" text-anchor="middle" textLength="19.4" lengthAdjust="spacingAndGlyphs" fill="#274E13" stroke="#E2E8DC" stroke-width="3.4" stroke-linejoin="round">6.600</text><text x="854.22" y="437.05" font-size="8.4" font-weight="bold" text-anchor="middle" textLength="19.4" lengthAdjust="spacingAndGlyphs" fill="#F4FAEE" stroke="#274E13" stroke-width="2.0" stroke-linejoin="round" paint-order="stroke">6.600</text><text x="876.18" y="436.54" font-size="8.4" font-weight="bold" text-anchor="middle" textLength="19.4" lengthAdjust="spacingAndGlyphs" fill="#274E13" stroke="#E2E8DC" stroke-width="3.4" stroke-linejoin="round">6.625</text><text x="876.18" y="436.54" font-size="8.4" font-weight="bold" text-anchor="middle" textLength="19.4" lengthAdjust="spacingAndGlyphs" fill="#F4FAEE" stroke="#274E13" stroke-width="2.0" stroke-linejoin="round" paint-order="stroke">6.625</text><text x="898.14" y="436.52" font-size="8.4" font-weight="bold" text-anchor="middle" textLength="19.4" lengthAdjust="spacingAndGlyphs" fill="#274E13" stroke="#E2E8DC" stroke-width="3.4" stroke-linejoin="round">6.626</text><text x="898.14" y="436.52" font-size="8.4" font-weight="bold" text-anchor="middle" textLength="19.4" lengthAdjust="spacingAndGlyphs" fill="#F4FAEE" stroke="#274E13" stroke-width="2.0" stroke-linejoin="round" paint-order="stroke">6.626</text><text x="483.90" y="569.10" font-size="8" fill="#222" text-anchor="end" transform="rotate(-45 483.90 569.10)">média 20</text><text x="505.86" y="569.10" font-size="8" fill="#222" text-anchor="end" transform="rotate(-45 505.86 569.10)">média 21</text><text x="527.82" y="569.10" font-size="8" fill="#222" text-anchor="end" transform="rotate(-45 527.82 569.10)">média 22</text><text x="549.78" y="569.10" font-size="8" fill="#222" text-anchor="end" transform="rotate(-45 549.78 569.10)">média 23</text><text x="571.74" y="569.10" font-size="8" fill="#222" text-anchor="end" transform="rotate(-45 571.74 569.10)">jan 24</text><text x="593.70" y="569.10" font-size="8" fill="#222" text-anchor="end" transform="rotate(-45 593.70 569.10)">fev 24</text><text x="615.66" y="569.10" font-size="8" fill="#222" text-anchor="end" transform="rotate(-45 615.66 569.10)">mar 24</text><text x="637.62" y="569.10" font-size="8" fill="#222" text-anchor="end" transform="rotate(-45 637.62 569.10)">abr 24</text><text x="659.58" y="569.10" font-size="8" fill="#222" text-anchor="end" transform="rotate(-45 659.58 569.10)">mai 24</text><text x="681.54" y="569.10" font-size="8" fill="#222" text-anchor="end" transform="rotate(-45 681.54 569.10)">jun 24</text><text x="703.50" y="569.10" font-size="8" fill="#222" text-anchor="end" transform="rotate(-45 703.50 569.10)">jul 24</text><text x="725.46" y="569.10" font-size="8" fill="#222" text-anchor="end" transform="rotate(-45 725.46 569.10)">ago 24</text><text x="747.42" y="569.10" font-size="8" fill="#222" text-anchor="end" transform="rotate(-45 747.42 569.10)">set 24</text><text x="769.38" y="569.10" font-size="8" fill="#222" text-anchor="end" transform="rotate(-45 769.38 569.10)">out 24</text><text x="791.34" y="569.10" font-size="8" fill="#222" text-anchor="end" transform="rotate(-45 791.34 569.10)">nov 24</text><text x="813.30" y="569.10" font-size="8" fill="#222" text-anchor="end" transform="rotate(-45 813.30 569.10)">dez 24</text><text x="835.26" y="569.10" font-size="8" fill="#222" text-anchor="end" transform="rotate(-45 835.26 569.10)">jan 25</text><text x="857.22" y="569.10" font-size="8" fill="#222" text-anchor="end" transform="rotate(-45 857.22 569.10)">fev 25</text><text x="879.18" y="569.10" font-size="8" fill="#222" text-anchor="end" transform="rotate(-45 879.18 569.10)">mar 25</text><text x="901.14" y="569.10" font-size="8" fill="#222" text-anchor="end" transform="rotate(-45 901.14 569.10)">abr 25</text></svg>
<div class="box" style="left:435px;top:616px;width:727px;height:319px;border:2px solid #000;border-bottom-width:1px;"></div>
<div class="hdr" style="left:437px;top:618px;width:723px;height:14px;"></div>
<div class="hline" style="left:435px;top:632px;width:727px;height:2px;background:#000"></div>
<div class="t " style="top:617.96px;font-size:10.8px;line-height:14px;color:#FFF5EE;font-weight:bold;left:399.20000000000005px;width:800px;text-align:center;transform:scaleX(1.0406);transform-origin:center;">EVOLUÇÃO MENSAL DOAÇÕES</div>
<svg style="left:0;top:0" width="1179" height="1269" viewBox="0 0 1179 1269"><line x1="480" x2="1144" y1="811.1" y2="811.1" stroke="#DADADA" stroke-width="1"/><line x1="480" x2="1144" y1="731.8" y2="731.8" stroke="#DADADA" stroke-width="1"/><line x1="480" x2="1144" y1="652.4" y2="652.4" stroke="#DADADA" stroke-width="1"/><text x="476" y="892.9" font-size="7.2" fill="#333" text-anchor="end">0</text><text x="476" y="813.5" font-size="7.2" fill="#333" text-anchor="end">100000</text><text x="476" y="734.2" font-size="7.2" fill="#333" text-anchor="end">200000</text><text x="476" y="654.8" font-size="7.2" fill="#333" text-anchor="end">300000</text><path d="M491.90 890.5 V879.62 Q491.90 878.12 493.40 878.12 H512.40 Q513.90 878.12 513.90 879.62 V890.5 Z" fill="#76A5AF"/><path d="M526.28 890.5 V869.40 Q526.28 867.90 527.78 867.90 H546.78 Q548.28 867.90 548.28 869.40 V890.5 Z" fill="#38761D"/><path d="M560.67 890.5 V872.67 Q560.67 871.17 562.17 871.17 H581.17 Q582.67 871.17 582.67 872.67 V890.5 Z" fill="#B4A7D6"/><path d="M595.05 890.5 V846.99 Q595.05 845.49 596.55 845.49 H615.55 Q617.05 845.49 617.05 846.99 V890.5 Z" fill="#674EA7"/><path d="M629.43 890.5 V865.56 Q629.43 864.06 630.93 864.06 H649.93 Q651.43 864.06 651.43 865.56 V890.5 Z" fill="#3D85C6"/><path d="M663.82 890.5 V872.58 Q663.82 871.08 665.32 871.08 H684.32 Q685.82 871.08 685.82 872.58 V890.5 Z" fill="#3D85C6"/><path d="M698.20 890.5 V871.48 Q698.20 869.98 699.70 869.98 H718.70 Q720.20 869.98 720.20 871.48 V890.5 Z" fill="#3D85C6"/><path d="M732.58 890.5 V866.42 Q732.58 864.92 734.08 864.92 H753.08 Q754.58 864.92 754.58 866.42 V890.5 Z" fill="#3D85C6"/><path d="M766.97 890.5 V872.35 Q766.97 870.85 768.47 870.85 H787.47 Q788.97 870.85 788.97 872.35 V890.5 Z" fill="#3D85C6"/><path d="M801.35 890.5 V861.52 Q801.35 860.02 802.85 860.02 H821.85 Q823.35 860.02 823.35 861.52 V890.5 Z" fill="#3D85C6"/><path d="M835.73 890.5 V676.28 Q835.73 674.78 837.23 674.78 H856.23 Q857.73 674.78 857.73 676.28 V890.5 Z" fill="#3D85C6"/><path d="M870.12 890.5 V866.48 Q870.12 864.98 871.62 864.98 H890.62 Q892.12 864.98 892.12 866.48 V890.5 Z" fill="#3D85C6"/><path d="M904.50 890.5 V866.36 Q904.50 864.86 906.00 864.86 H925.00 Q926.50 864.86 926.50 866.36 V890.5 Z" fill="#3D85C6"/><path d="M938.88 890.5 V855.42 Q938.88 853.92 940.38 853.92 H959.38 Q960.88 853.92 960.88 855.42 V890.5 Z" fill="#3D85C6"/><path d="M973.27 890.5 V840.23 Q973.27 838.73 974.77 838.73 H993.77 Q995.27 838.73 995.27 840.23 V890.5 Z" fill="#3D85C6"/><path d="M1007.65 890.5 V858.93 Q1007.65 857.43 1009.15 857.43 H1028.15 Q1029.65 857.43 1029.65 858.93 V890.5 Z" fill="#3D85C6"/><path d="M1042.03 890.5 V862.10 Q1042.03 860.60 1043.53 860.60 H1062.53 Q1064.03 860.60 1064.03 862.10 V890.5 Z" fill="#3D85C6"/><path d="M1076.42 890.5 V866.90 Q1076.42 865.40 1077.92 865.40 H1096.92 Q1098.42 865.40 1098.42 866.90 V890.5 Z" fill="#3D85C6"/><path d="M1110.80 890.5 V854.89 Q1110.80 853.39 1112.30 853.39 H1131.30 Q1132.80 853.39 1132.80 854.89 V890.5 Z" fill="#3D85C6"/><line x1="480" x2="1144" y1="890.5" y2="890.5" stroke="#9E9E9E" stroke-width="1.4"/><line x1="640.4" x2="1121.8" y1="890.5" y2="890.5" stroke="#CC0000" stroke-width="1.4"/><text x="502.90" y="868.12" font-size="9.4" font-weight="bold" text-anchor="middle" fill="#76A5AF" textLength="26.5" lengthAdjust="spacingAndGlyphs">15.601</text><text x="502.90" y="900.50" font-size="7.4" text-anchor="middle" fill="#222">média 20</text><text x="537.28" y="857.90" font-size="9.4" font-weight="bold" text-anchor="middle" fill="#38761D" textLength="26.5" lengthAdjust="spacingAndGlyphs">28.477</text><text x="537.28" y="900.50" font-size="7.4" text-anchor="middle" fill="#222">média 21</text><text x="571.67" y="861.17" font-size="9.4" font-weight="bold" text-anchor="middle" fill="#B4A7D6" textLength="26.5" lengthAdjust="spacingAndGlyphs">24.360</text><text x="571.67" y="900.50" font-size="7.4" text-anchor="middle" fill="#222">média 22</text><text x="606.05" y="835.49" font-size="9.4" font-weight="bold" text-anchor="middle" fill="#674EA7" textLength="26.5" lengthAdjust="spacingAndGlyphs">56.714</text><text x="606.05" y="900.50" font-size="7.4" text-anchor="middle" fill="#222">média 23</text><text x="640.43" y="854.06" font-size="9.4" font-weight="bold" text-anchor="middle" fill="#3D85C6" textLength="26.5" lengthAdjust="spacingAndGlyphs">33.311</text><text x="640.43" y="900.50" font-size="7.4" text-anchor="middle" fill="#222">jan 24</text><text x="640.43" y="879.70" font-size="8" font-weight="bold" text-anchor="middle" fill="#CC0000" stroke="#fff" stroke-width="2.2" stroke-linejoin="round" paint-order="stroke">49</text><text x="674.82" y="861.08" font-size="9.4" font-weight="bold" text-anchor="middle" fill="#3D85C6" textLength="26.5" lengthAdjust="spacingAndGlyphs">24.472</text><text x="674.82" y="900.50" font-size="7.4" text-anchor="middle" fill="#222">fev 24</text><text x="674.82" y="879.70" font-size="8" font-weight="bold" text-anchor="middle" fill="#CC0000" stroke="#fff" stroke-width="2.2" stroke-linejoin="round" paint-order="stroke">502</text><text x="709.20" y="859.98" font-size="9.4" font-weight="bold" text-anchor="middle" fill="#3D85C6" textLength="26.5" lengthAdjust="spacingAndGlyphs">25.855</text><text x="709.20" y="900.50" font-size="7.4" text-anchor="middle" fill="#222">mar 24</text><text x="709.20" y="879.70" font-size="8" font-weight="bold" text-anchor="middle" fill="#CC0000" stroke="#fff" stroke-width="2.2" stroke-linejoin="round" paint-order="stroke">77</text><text x="743.58" y="854.92" font-size="9.4" font-weight="bold" text-anchor="middle" fill="#3D85C6" textLength="26.5" lengthAdjust="spacingAndGlyphs">32.228</text><text x="743.58" y="900.50" font-size="7.4" text-anchor="middle" fill="#222">abr 24</text><text x="743.58" y="879.70" font-size="8" font-weight="bold" text-anchor="middle" fill="#CC0000" stroke="#fff" stroke-width="2.2" stroke-linejoin="round" paint-order="stroke">42</text><text x="777.97" y="860.85" font-size="9.4" font-weight="bold" text-anchor="middle" fill="#3D85C6" textLength="26.5" lengthAdjust="spacingAndGlyphs">24.762</text><text x="777.97" y="900.50" font-size="7.4" text-anchor="middle" fill="#222">mai 24</text><text x="777.97" y="879.70" font-size="8" font-weight="bold" text-anchor="middle" fill="#CC0000" stroke="#fff" stroke-width="2.2" stroke-linejoin="round" paint-order="stroke">39</text><text x="812.35" y="850.02" font-size="9.4" font-weight="bold" text-anchor="middle" fill="#3D85C6" textLength="26.5" lengthAdjust="spacingAndGlyphs">38.403</text><text x="812.35" y="900.50" font-size="7.4" text-anchor="middle" fill="#222">jun 24</text><text x="812.35" y="879.70" font-size="8" font-weight="bold" text-anchor="middle" fill="#CC0000" stroke="#fff" stroke-width="2.2" stroke-linejoin="round" paint-order="stroke">37</text><text x="846.73" y="664.78" font-size="9.4" font-weight="bold" text-anchor="middle" fill="#3D85C6" textLength="31.3" lengthAdjust="spacingAndGlyphs">271.801</text><text x="846.73" y="900.50" font-size="7.4" text-anchor="middle" fill="#222">ago 24</text><text x="846.73" y="879.70" font-size="8" font-weight="bold" text-anchor="middle" fill="#CC0000" stroke="#fff" stroke-width="2.2" stroke-linejoin="round" paint-order="stroke">32</text><text x="881.12" y="854.98" font-size="9.4" font-weight="bold" text-anchor="middle" fill="#3D85C6" textLength="26.5" lengthAdjust="spacingAndGlyphs">32.151</text><text x="881.12" y="900.50" font-size="7.4" text-anchor="middle" fill="#222">set 24</text><text x="881.12" y="879.70" font-size="8" font-weight="bold" text-anchor="middle" fill="#CC0000" stroke="#fff" stroke-width="2.2" stroke-linejoin="round" paint-order="stroke">38</text><text x="915.50" y="854.86" font-size="9.4" font-weight="bold" text-anchor="middle" fill="#3D85C6" textLength="26.5" lengthAdjust="spacingAndGlyphs">32.301</text><text x="915.50" y="900.50" font-size="7.4" text-anchor="middle" fill="#222">out 24</text><text x="915.50" y="879.70" font-size="8" font-weight="bold" text-anchor="middle" fill="#CC0000" stroke="#fff" stroke-width="2.2" stroke-linejoin="round" paint-order="stroke">43</text><text x="949.88" y="843.92" font-size="9.4" font-weight="bold" text-anchor="middle" fill="#3D85C6" textLength="26.5" lengthAdjust="spacingAndGlyphs">46.085</text><text x="949.88" y="900.50" font-size="7.4" text-anchor="middle" fill="#222">nov 24</text><text x="949.88" y="879.70" font-size="8" font-weight="bold" text-anchor="middle" fill="#CC0000" stroke="#fff" stroke-width="2.2" stroke-linejoin="round" paint-order="stroke">33</text><text x="984.27" y="828.73" font-size="9.4" font-weight="bold" text-anchor="middle" fill="#3D85C6" textLength="26.5" lengthAdjust="spacingAndGlyphs">65.226</text><text x="984.27" y="900.50" font-size="7.4" text-anchor="middle" fill="#222">dez 24</text><text x="984.27" y="879.70" font-size="8" font-weight="bold" text-anchor="middle" fill="#CC0000" stroke="#fff" stroke-width="2.2" stroke-linejoin="round" paint-order="stroke">67</text><text x="1018.65" y="847.43" font-size="9.4" font-weight="bold" text-anchor="middle" fill="#3D85C6" textLength="26.5" lengthAdjust="spacingAndGlyphs">41.662</text><text x="1018.65" y="900.50" font-size="7.4" text-anchor="middle" fill="#222">jan 25</text><text x="1018.65" y="879.70" font-size="8" font-weight="bold" text-anchor="middle" fill="#CC0000" stroke="#fff" stroke-width="2.2" stroke-linejoin="round" paint-order="stroke">59</text><text x="1053.03" y="850.60" font-size="9.4" font-weight="bold" text-anchor="middle" fill="#3D85C6" textLength="26.5" lengthAdjust="spacingAndGlyphs">37.676</text><text x="1053.03" y="900.50" font-size="7.4" text-anchor="middle" fill="#222">fev 25</text><text x="1053.03" y="879.70" font-size="8" font-weight="bold" text-anchor="middle" fill="#CC0000" stroke="#fff" stroke-width="2.2" stroke-linejoin="round" paint-order="stroke">50</text><text x="1087.42" y="855.40" font-size="9.4" font-weight="bold" text-anchor="middle" fill="#3D85C6" textLength="26.5" lengthAdjust="spacingAndGlyphs">31.620</text><text x="1087.42" y="900.50" font-size="7.4" text-anchor="middle" fill="#222">mar 25</text><text x="1087.42" y="879.70" font-size="8" font-weight="bold" text-anchor="middle" fill="#CC0000" stroke="#fff" stroke-width="2.2" stroke-linejoin="round" paint-order="stroke">48</text><text x="1121.80" y="843.39" font-size="9.4" font-weight="bold" text-anchor="middle" fill="#3D85C6" textLength="26.5" lengthAdjust="spacingAndGlyphs">46.757</text><text x="1121.80" y="900.50" font-size="7.4" text-anchor="middle" fill="#222">abr 25</text><text x="1121.80" y="879.70" font-size="8" font-weight="bold" text-anchor="middle" fill="#CC0000" stroke="#fff" stroke-width="2.2" stroke-linejoin="round" paint-order="stroke">51</text><rect x="751.7" y="912.2" width="7" height="6.8" fill="#3D85C6"/><text x="763.9" y="917.8" font-size="7.6" fill="#333">doações</text><rect x="801.6" y="914.9" width="7.6" height="2" fill="#CC0000"/><text x="814.1" y="917.8" font-size="7.6" fill="#333">doadores</text></svg>
<div class="box" style="left:435px;top:950px;width:727px;height:278px;border:2px solid #000;"></div>
<div class="hdr" style="left:437px;top:952px;width:723px;height:15px;"></div>
<div class="hline" style="left:435px;top:967px;width:727px;height:2px;background:#000"></div>
<div class="t " style="top:954.06px;font-size:10.8px;line-height:14px;color:#FFF5EE;font-weight:bold;left:399.15px;width:800px;text-align:center;transform:scaleX(1.0296);transform-origin:center;">EVOLUÇÃO MENSAL DESPESAS</div>
<svg style="left:0;top:0" width="1179" height="1269" viewBox="0 0 1179 1269"><line x1="474" x2="1147" y1="1142.8" y2="1142.8" stroke="#DADADA" stroke-width="1"/><line x1="474" x2="1147" y1="1090.5" y2="1090.5" stroke="#DADADA" stroke-width="1"/><line x1="474" x2="1147" y1="1038.2" y2="1038.2" stroke="#DADADA" stroke-width="1"/><line x1="474" x2="1147" y1="986.0" y2="986.0" stroke="#DADADA" stroke-width="1"/><text x="469.5" y="1197.5" font-size="7.2" fill="#333" text-anchor="end">0</text><text x="469.5" y="1145.2" font-size="7.2" fill="#333" text-anchor="end">20000</text><text x="469.5" y="1093.0" font-size="7.2" fill="#333" text-anchor="end">40000</text><text x="469.5" y="1040.8" font-size="7.2" fill="#333" text-anchor="end">60000</text><text x="469.5" y="988.5" font-size="7.2" fill="#333" text-anchor="end">80000</text><path d="M485.60 1195 V1168.53 Q485.60 1167.03 487.10 1167.03 H505.10 Q506.60 1167.03 506.60 1168.53 V1195 Z" fill="#0B5394"/><path d="M518.69 1195 V1142.87 Q518.69 1141.37 520.19 1141.37 H538.19 Q539.69 1141.37 539.69 1142.87 V1195 Z" fill="#4A86E8"/><path d="M551.79 1195 V1120.95 Q551.79 1119.45 553.29 1119.45 H571.29 Q572.79 1119.45 572.79 1120.95 V1195 Z" fill="#CFE2F3"/><path d="M584.88 1195 V1077.26 Q584.88 1075.76 586.38 1075.76 H604.38 Q605.88 1075.76 605.88 1077.26 V1195 Z" fill="#B4A7D6"/><path d="M617.98 1195 V1097.74 Q617.98 1096.24 619.48 1096.24 H637.48 Q638.98 1096.24 638.98 1097.74 V1195 Z" fill="#A64D79"/><path d="M651.07 1195 V1102.77 Q651.07 1101.27 652.57 1101.27 H670.57 Q672.07 1101.27 672.07 1102.77 V1195 Z" fill="#A64D79"/><path d="M684.17 1195 V1070.25 Q684.17 1068.75 685.67 1068.75 H703.67 Q705.17 1068.75 705.17 1070.25 V1195 Z" fill="#A64D79"/><path d="M717.26 1195 V1027.24 Q717.26 1025.74 718.76 1025.74 H736.76 Q738.26 1025.74 738.26 1027.24 V1195 Z" fill="#A64D79"/><path d="M750.36 1195 V987.24 Q750.36 985.74 751.86 985.74 H769.86 Q771.36 985.74 771.36 987.24 V1195 Z" fill="#A64D79"/><path d="M783.45 1195 V1118.91 Q783.45 1117.41 784.95 1117.41 H802.95 Q804.45 1117.41 804.45 1118.91 V1195 Z" fill="#A64D79"/><path d="M816.55 1195 V1082.25 Q816.55 1080.75 818.05 1080.75 H836.05 Q837.55 1080.75 837.55 1082.25 V1195 Z" fill="#A64D79"/><path d="M849.64 1195 V1077.86 Q849.64 1076.36 851.14 1076.36 H869.14 Q870.64 1076.36 870.64 1077.86 V1195 Z" fill="#A64D79"/><path d="M882.74 1195 V1038.18 Q882.74 1036.68 884.24 1036.68 H902.24 Q903.74 1036.68 903.74 1038.18 V1195 Z" fill="#A64D79"/><path d="M915.83 1195 V1065.49 Q915.83 1063.99 917.33 1063.99 H935.33 Q936.83 1063.99 936.83 1065.49 V1195 Z" fill="#A64D79"/><path d="M948.93 1195 V1011.98 Q948.93 1010.48 950.43 1010.48 H968.43 Q969.93 1010.48 969.93 1011.98 V1195 Z" fill="#A64D79"/><path d="M982.02 1195 V1033.92 Q982.02 1032.42 983.52 1032.42 H1001.52 Q1003.02 1032.42 1003.02 1033.92 V1195 Z" fill="#A64D79"/><path d="M1015.12 1195 V1060.58 Q1015.12 1059.08 1016.62 1059.08 H1034.62 Q1036.12 1059.08 1036.12 1060.58 V1195 Z" fill="#A64D79"/><path d="M1048.21 1195 V1040.17 Q1048.21 1038.67 1049.71 1038.67 H1067.71 Q1069.21 1038.67 1069.21 1040.17 V1195 Z" fill="#A64D79"/><path d="M1081.31 1195 V1022.06 Q1081.31 1020.56 1082.81 1020.56 H1100.81 Q1102.31 1020.56 1102.31 1022.06 V1195 Z" fill="#A64D79"/><path d="M1114.40 1195 V1004.52 Q1114.40 1003.02 1115.90 1003.02 H1133.90 Q1135.40 1003.02 1135.40 1004.52 V1195 Z" fill="#A64D79"/><line x1="474" x2="1147" y1="1195" y2="1195" stroke="#9E9E9E" stroke-width="1.4"/><line x1="474" x2="474" y1="985.5" y2="1195" stroke="#9E9E9E" stroke-width="1.2"/><text x="496.10" y="1158.43" font-size="8" font-weight="bold" text-anchor="middle" fill="#0B5394" textLength="24.9" lengthAdjust="spacingAndGlyphs">10.708</text><text x="496.10" y="1204.6" font-size="7.8" text-anchor="middle" fill="#222">média</text><text x="496.10" y="1211.4" font-size="7.8" text-anchor="middle" fill="#222">20</text><text x="529.19" y="1132.77" font-size="8" font-weight="bold" text-anchor="middle" fill="#4A86E8" textLength="24.9" lengthAdjust="spacingAndGlyphs">20.528</text><text x="529.19" y="1204.6" font-size="7.8" text-anchor="middle" fill="#222">média</text><text x="529.19" y="1211.4" font-size="7.8" text-anchor="middle" fill="#222">21</text><text x="562.29" y="1110.85" font-size="8" font-weight="bold" text-anchor="middle" fill="#CFE2F3" textLength="24.9" lengthAdjust="spacingAndGlyphs">28.920</text><text x="562.29" y="1204.6" font-size="7.8" text-anchor="middle" fill="#222">média</text><text x="562.29" y="1211.4" font-size="7.8" text-anchor="middle" fill="#222">22</text><text x="595.38" y="1067.16" font-size="8" font-weight="bold" text-anchor="middle" fill="#B4A7D6" textLength="24.9" lengthAdjust="spacingAndGlyphs">45.642</text><text x="595.38" y="1204.6" font-size="7.8" text-anchor="middle" fill="#222">média</text><text x="595.38" y="1211.4" font-size="7.8" text-anchor="middle" fill="#222">23</text><text x="628.48" y="1087.64" font-size="8" font-weight="bold" text-anchor="middle" fill="#A64D79" textLength="24.9" lengthAdjust="spacingAndGlyphs">37.804</text><text x="628.48" y="1204.6" font-size="7.8" text-anchor="middle" fill="#222">jan 24</text><text x="661.57" y="1092.67" font-size="8" font-weight="bold" text-anchor="middle" fill="#A64D79" textLength="24.9" lengthAdjust="spacingAndGlyphs">35.877</text><text x="661.57" y="1204.6" font-size="7.8" text-anchor="middle" fill="#222">fev 24</text><text x="694.67" y="1060.15" font-size="8" font-weight="bold" text-anchor="middle" fill="#A64D79" textLength="24.9" lengthAdjust="spacingAndGlyphs">48.324</text><text x="694.67" y="1204.6" font-size="7.8" text-anchor="middle" fill="#222">mar 24</text><text x="727.76" y="1017.14" font-size="8" font-weight="bold" text-anchor="middle" fill="#A64D79" textLength="24.9" lengthAdjust="spacingAndGlyphs">64.790</text><text x="727.76" y="1204.6" font-size="7.8" text-anchor="middle" fill="#222">abr 24</text><text x="760.86" y="977.14" font-size="8" font-weight="bold" text-anchor="middle" fill="#A64D79" textLength="24.9" lengthAdjust="spacingAndGlyphs">80.098</text><text x="760.86" y="1204.6" font-size="7.8" text-anchor="middle" fill="#222">mai 24</text><text x="793.95" y="1108.81" font-size="8" font-weight="bold" text-anchor="middle" fill="#A64D79" textLength="24.9" lengthAdjust="spacingAndGlyphs">29.699</text><text x="793.95" y="1204.6" font-size="7.8" text-anchor="middle" fill="#222">jun 24</text><text x="827.05" y="1072.15" font-size="8" font-weight="bold" text-anchor="middle" fill="#A64D79" textLength="24.9" lengthAdjust="spacingAndGlyphs">43.732</text><text x="827.05" y="1204.6" font-size="7.8" text-anchor="middle" fill="#222">jul 24</text><text x="860.14" y="1067.76" font-size="8" font-weight="bold" text-anchor="middle" fill="#A64D79" textLength="24.9" lengthAdjust="spacingAndGlyphs">45.413</text><text x="860.14" y="1204.6" font-size="7.8" text-anchor="middle" fill="#222">ago 24</text><text x="893.24" y="1028.08" font-size="8" font-weight="bold" text-anchor="middle" fill="#A64D79" textLength="24.9" lengthAdjust="spacingAndGlyphs">60.600</text><text x="893.24" y="1204.6" font-size="7.8" text-anchor="middle" fill="#222">set 24</text><text x="926.33" y="1055.39" font-size="8" font-weight="bold" text-anchor="middle" fill="#A64D79" textLength="24.9" lengthAdjust="spacingAndGlyphs">50.147</text><text x="926.33" y="1204.6" font-size="7.8" text-anchor="middle" fill="#222">out 24</text><text x="959.43" y="1001.88" font-size="8" font-weight="bold" text-anchor="middle" fill="#A64D79" textLength="24.9" lengthAdjust="spacingAndGlyphs">70.630</text><text x="959.43" y="1204.6" font-size="7.8" text-anchor="middle" fill="#222">nov 24</text><text x="992.52" y="1023.82" font-size="8" font-weight="bold" text-anchor="middle" fill="#A64D79" textLength="24.9" lengthAdjust="spacingAndGlyphs">62.233</text><text x="992.52" y="1204.6" font-size="7.8" text-anchor="middle" fill="#222">dez 24</text><text x="1025.62" y="1050.48" font-size="8" font-weight="bold" text-anchor="middle" fill="#A64D79" textLength="24.9" lengthAdjust="spacingAndGlyphs">52.025</text><text x="1025.62" y="1204.6" font-size="7.8" text-anchor="middle" fill="#222">jan 25</text><text x="1058.71" y="1030.07" font-size="8" font-weight="bold" text-anchor="middle" fill="#A64D79" textLength="24.9" lengthAdjust="spacingAndGlyphs">59.841</text><text x="1058.71" y="1204.6" font-size="7.8" text-anchor="middle" fill="#222">fev 25</text><text x="1091.81" y="1011.96" font-size="8" font-weight="bold" text-anchor="middle" fill="#A64D79" textLength="24.9" lengthAdjust="spacingAndGlyphs">66.773</text><text x="1091.81" y="1204.6" font-size="7.8" text-anchor="middle" fill="#222">mar 25</text><text x="1124.90" y="994.42" font-size="8" font-weight="bold" text-anchor="middle" fill="#A64D79" textLength="24.9" lengthAdjust="spacingAndGlyphs">73.485</text><text x="1124.90" y="1204.6" font-size="7.8" text-anchor="middle" fill="#222">abr 25</text></svg>
<svg style="left:0;top:0" width="1179" height="1269" viewBox="0 0 1179 1269"><defs><clipPath id="hole"><ellipse cx="221.1" cy="1127.5" rx="47.9" ry="33.6"/></clipPath></defs><polygon points="319.80,1127.50 319.80,1128.08 319.79,1128.67 319.77,1129.25 319.74,1129.83 319.71,1130.42 319.67,1131.00 319.63,1131.58 319.58,1132.16 319.52,1132.75 319.45,1133.33 319.38,1133.91 319.30,1134.49 319.21,1135.07 319.11,1135.65 319.01,1136.23 318.90,1136.81 318.79,1137.38 318.67,1137.96 318.54,1138.54 318.40,1139.11 318.26,1139.69 318.11,1140.26 317.95,1140.83 317.79,1141.41 317.79,1154.91 317.95,1154.33 318.11,1153.76 318.26,1153.19 318.40,1152.61 318.54,1152.04 318.67,1151.46 318.79,1150.88 318.90,1150.31 319.01,1149.73 319.11,1149.15 319.21,1148.57 319.30,1147.99 319.38,1147.41 319.45,1146.83 319.52,1146.25 319.58,1145.66 319.63,1145.08 319.67,1144.50 319.71,1143.92 319.74,1143.33 319.77,1142.75 319.79,1142.17 319.80,1141.58 319.80,1141.00" fill="#A68193"/><polygon points="317.79,1141.41 317.69,1141.72 317.60,1142.04 317.50,1142.35 317.40,1142.67 317.30,1142.98 317.19,1143.29 317.09,1143.61 316.98,1143.92 316.87,1144.23 316.76,1144.55 316.64,1144.86 316.53,1145.17 316.41,1145.48 316.29,1145.79 316.17,1146.10 316.04,1146.41 315.92,1146.72 315.79,1147.03 315.66,1147.34 315.52,1147.65 315.39,1147.96 315.25,1148.26 315.11,1148.57 314.97,1148.88 314.97,1162.38 315.11,1162.07 315.25,1161.76 315.39,1161.46 315.52,1161.15 315.66,1160.84 315.79,1160.53 315.92,1160.22 316.04,1159.91 316.17,1159.60 316.29,1159.29 316.41,1158.98 316.53,1158.67 316.64,1158.36 316.76,1158.05 316.87,1157.73 316.98,1157.42 317.09,1157.11 317.19,1156.79 317.30,1156.48 317.40,1156.17 317.50,1155.85 317.60,1155.54 317.69,1155.22 317.79,1154.91" fill="#813C5E"/><polygon points="314.97,1148.88 314.62,1149.63 314.25,1150.37 313.87,1151.12 313.48,1151.86 313.08,1152.59 312.67,1153.33 312.24,1154.06 311.80,1154.78 311.36,1155.51 310.89,1156.23 310.42,1156.94 309.94,1157.65 309.44,1158.36 308.93,1159.07 308.41,1159.77 307.88,1160.46 307.34,1161.15 306.79,1161.84 306.23,1162.52 305.65,1163.20 305.06,1163.87 304.47,1164.54 303.86,1165.21 303.24,1165.87 303.24,1179.37 303.86,1178.71 304.47,1178.04 305.06,1177.37 305.65,1176.70 306.23,1176.02 306.79,1175.34 307.34,1174.65 307.88,1173.96 308.41,1173.27 308.93,1172.57 309.44,1171.86 309.94,1171.15 310.42,1170.44 310.89,1169.73 311.36,1169.01 311.80,1168.28 312.24,1167.56 312.67,1166.83 313.08,1166.09 313.48,1165.36 313.87,1164.62 314.25,1163.87 314.62,1163.13 314.97,1162.38" fill="#2F679A"/><polygon points="303.24,1165.87 302.86,1166.26 302.48,1166.66 302.09,1167.06 301.69,1167.45 301.30,1167.84 300.90,1168.23 300.49,1168.61 300.08,1169.00 299.67,1169.38 299.26,1169.76 298.84,1170.14 298.41,1170.52 297.99,1170.89 297.56,1171.26 297.12,1171.63 296.68,1172.00 296.24,1172.37 295.80,1172.73 295.35,1173.09 294.90,1173.45 294.44,1173.81 293.98,1174.17 293.52,1174.52 293.05,1174.87 293.05,1188.37 293.52,1188.02 293.98,1187.67 294.44,1187.31 294.90,1186.95 295.35,1186.59 295.80,1186.23 296.24,1185.87 296.68,1185.50 297.12,1185.13 297.56,1184.76 297.99,1184.39 298.41,1184.02 298.84,1183.64 299.26,1183.26 299.67,1182.88 300.08,1182.50 300.49,1182.11 300.90,1181.73 301.30,1181.34 301.69,1180.95 302.09,1180.56 302.48,1180.16 302.86,1179.76 303.24,1179.37" fill="#BF8A53"/><polygon points="293.05,1174.87 292.15,1175.53 291.25,1176.18 290.32,1176.83 289.39,1177.46 288.44,1178.09 287.49,1178.71 286.52,1179.32 285.54,1179.92 284.55,1180.51 283.54,1181.09 282.53,1181.66 281.51,1182.23 280.47,1182.78 279.43,1183.32 278.37,1183.86 277.31,1184.38 276.23,1184.90 275.15,1185.40 274.06,1185.90 272.95,1186.38 271.84,1186.86 270.72,1187.32 269.59,1187.77 268.45,1188.22 268.45,1201.72 269.59,1201.27 270.72,1200.82 271.84,1200.36 272.95,1199.88 274.06,1199.40 275.15,1198.90 276.23,1198.40 277.31,1197.88 278.37,1197.36 279.43,1196.82 280.47,1196.28 281.51,1195.73 282.53,1195.16 283.54,1194.59 284.55,1194.01 285.54,1193.42 286.52,1192.82 287.49,1192.21 288.44,1191.59 289.39,1190.96 290.32,1190.33 291.25,1189.68 292.15,1189.03 293.05,1188.37" fill="#C65500"/><polygon points="268.45,1188.22 267.75,1188.48 267.04,1188.75 266.33,1189.01 265.62,1189.26 264.90,1189.51 264.18,1189.76 263.46,1190.00 262.73,1190.24 262.00,1190.48 261.27,1190.71 260.54,1190.94 259.80,1191.16 259.06,1191.38 258.32,1191.59 257.58,1191.80 256.83,1192.01 256.08,1192.21 255.33,1192.40 254.58,1192.60 253.82,1192.79 253.07,1192.97 252.31,1193.15 251.54,1193.33 250.78,1193.50 250.78,1207.00 251.54,1206.83 252.31,1206.65 253.07,1206.47 253.82,1206.29 254.58,1206.10 255.33,1205.90 256.08,1205.71 256.83,1205.51 257.58,1205.30 258.32,1205.09 259.06,1204.88 259.80,1204.66 260.54,1204.44 261.27,1204.21 262.00,1203.98 262.73,1203.74 263.46,1203.50 264.18,1203.26 264.90,1203.01 265.62,1202.76 266.33,1202.51 267.04,1202.25 267.75,1201.98 268.45,1201.72" fill="#36939A"/><polygon points="250.78,1193.50 249.44,1193.79 248.09,1194.06 246.74,1194.32 245.38,1194.57 244.02,1194.81 242.66,1195.03 241.29,1195.24 239.91,1195.43 238.53,1195.61 237.15,1195.78 235.76,1195.93 234.38,1196.07 232.98,1196.20 231.59,1196.31 230.19,1196.41 228.80,1196.49 227.40,1196.56 226.00,1196.61 224.60,1196.66 223.19,1196.68 221.79,1196.70 220.39,1196.70 218.99,1196.68 217.58,1196.66 217.58,1210.16 218.99,1210.18 220.39,1210.20 221.79,1210.20 223.19,1210.18 224.60,1210.16 226.00,1210.11 227.40,1210.06 228.80,1209.99 230.19,1209.91 231.59,1209.81 232.98,1209.70 234.38,1209.57 235.76,1209.43 237.15,1209.28 238.53,1209.11 239.91,1208.93 241.29,1208.74 242.66,1208.53 244.02,1208.31 245.38,1208.07 246.74,1207.82 248.09,1207.56 249.44,1207.29 250.78,1207.00" fill="#5F84C0"/><polygon points="217.58,1196.66 216.42,1196.62 215.25,1196.58 214.08,1196.52 212.91,1196.46 211.75,1196.39 210.58,1196.31 209.42,1196.21 208.26,1196.11 207.10,1196.00 205.94,1195.88 204.79,1195.75 203.63,1195.61 202.48,1195.46 201.34,1195.30 200.19,1195.13 199.05,1194.95 197.91,1194.76 196.77,1194.57 195.64,1194.36 194.51,1194.14 193.39,1193.92 192.27,1193.68 191.15,1193.44 190.04,1193.18 190.04,1206.68 191.15,1206.94 192.27,1207.18 193.39,1207.42 194.51,1207.64 195.64,1207.86 196.77,1208.07 197.91,1208.26 199.05,1208.45 200.19,1208.63 201.34,1208.80 202.48,1208.96 203.63,1209.11 204.79,1209.25 205.94,1209.38 207.10,1209.50 208.26,1209.61 209.42,1209.71 210.58,1209.81 211.75,1209.89 212.91,1209.96 214.08,1210.02 215.25,1210.08 216.42,1210.12 217.58,1210.16" fill="#B36059"/><polygon points="190.04,1193.18 189.74,1193.12 189.45,1193.05 189.16,1192.98 188.87,1192.91 188.57,1192.83 188.28,1192.76 187.99,1192.69 187.70,1192.62 187.41,1192.54 187.12,1192.47 186.83,1192.39 186.54,1192.32 186.25,1192.24 185.96,1192.16 185.67,1192.09 185.38,1192.01 185.09,1191.93 184.80,1191.85 184.52,1191.77 184.23,1191.69 183.94,1191.61 183.66,1191.53 183.37,1191.44 183.08,1191.36 183.08,1204.86 183.37,1204.94 183.66,1205.03 183.94,1205.11 184.23,1205.19 184.52,1205.27 184.80,1205.35 185.09,1205.43 185.38,1205.51 185.67,1205.59 185.96,1205.66 186.25,1205.74 186.54,1205.82 186.83,1205.89 187.12,1205.97 187.41,1206.04 187.70,1206.12 187.99,1206.19 188.28,1206.26 188.57,1206.33 188.87,1206.41 189.16,1206.48 189.45,1206.55 189.74,1206.62 190.04,1206.68" fill="#C4A23D"/><polygon points="183.08,1191.36 181.16,1190.78 179.25,1190.17 177.36,1189.53 175.49,1188.87 173.64,1188.18 171.81,1187.45 170.01,1186.71 168.23,1185.93 166.47,1185.13 164.73,1184.31 163.02,1183.45 161.34,1182.58 159.69,1181.67 158.06,1180.75 156.46,1179.80 154.89,1178.82 153.35,1177.82 151.84,1176.80 150.36,1175.76 148.92,1174.70 147.50,1173.61 146.12,1172.50 144.78,1171.38 143.46,1170.23 143.46,1183.73 144.78,1184.88 146.12,1186.00 147.50,1187.11 148.92,1188.20 150.36,1189.26 151.84,1190.30 153.35,1191.32 154.89,1192.32 156.46,1193.30 158.06,1194.25 159.69,1195.17 161.34,1196.08 163.02,1196.95 164.73,1197.81 166.47,1198.63 168.23,1199.43 170.01,1200.21 171.81,1200.95 173.64,1201.68 175.49,1202.37 177.36,1203.03 179.25,1203.67 181.16,1204.28 183.08,1204.86" fill="#43916B"/><polygon points="143.46,1170.23 142.97,1169.78 142.48,1169.33 141.99,1168.88 141.51,1168.42 141.03,1167.96 140.56,1167.50 140.10,1167.04 139.64,1166.57 139.18,1166.10 138.74,1165.63 138.29,1165.16 137.85,1164.68 137.42,1164.20 137.00,1163.72 136.58,1163.23 136.16,1162.74 135.75,1162.26 135.35,1161.76 134.95,1161.27 134.56,1160.77 134.17,1160.28 133.79,1159.77 133.42,1159.27 133.05,1158.77 133.05,1172.27 133.42,1172.77 133.79,1173.27 134.17,1173.78 134.56,1174.27 134.95,1174.77 135.35,1175.26 135.75,1175.76 136.16,1176.24 136.58,1176.73 137.00,1177.22 137.42,1177.70 137.85,1178.18 138.29,1178.66 138.74,1179.13 139.18,1179.60 139.64,1180.07 140.10,1180.54 140.56,1181.00 141.03,1181.46 141.51,1181.92 141.99,1182.38 142.48,1182.83 142.97,1183.28 143.46,1183.73" fill="#C6773C"/><polygon points="133.05,1158.77 132.20,1157.55 131.37,1156.33 130.59,1155.10 129.84,1153.85 129.12,1152.60 128.44,1151.33 127.79,1150.06 127.18,1148.78 126.61,1147.49 126.07,1146.19 125.57,1144.88 125.10,1143.57 124.67,1142.26 124.28,1140.93 123.92,1139.60 123.60,1138.27 123.32,1136.93 123.08,1135.59 122.87,1134.25 122.70,1132.90 122.57,1131.55 122.48,1130.20 122.42,1128.85 122.40,1127.50 122.40,1141.00 122.42,1142.35 122.48,1143.70 122.57,1145.05 122.70,1146.40 122.87,1147.75 123.08,1149.09 123.32,1150.43 123.60,1151.77 123.92,1153.10 124.28,1154.43 124.67,1155.76 125.10,1157.07 125.57,1158.38 126.07,1159.69 126.61,1160.99 127.18,1162.28 127.79,1163.56 128.44,1164.83 129.12,1166.10 129.84,1167.35 130.59,1168.60 131.37,1169.83 132.20,1171.05 133.05,1172.27" fill="#5DA1A9"/><g clip-path="url(#hole)"><polygon points="221.10,1093.90 224.23,1093.97 227.35,1094.19 230.44,1094.55 233.50,1095.04 236.50,1095.68 239.43,1096.46 242.29,1097.37 245.05,1098.40 247.71,1099.56 250.26,1100.84 252.68,1102.24 254.97,1103.74 257.11,1105.35 259.10,1107.05 260.93,1108.83 262.58,1110.70 264.06,1112.64 265.35,1114.64 266.46,1116.70 267.37,1118.80 268.08,1120.94 268.59,1123.11 268.90,1125.30 269.00,1127.50 269.00,1141.00 268.90,1138.80 268.59,1136.61 268.08,1134.44 267.37,1132.30 266.46,1130.20 265.35,1128.14 264.06,1126.14 262.58,1124.20 260.93,1122.33 259.10,1120.55 257.11,1118.85 254.97,1117.24 252.68,1115.74 250.26,1114.34 247.71,1113.06 245.05,1111.90 242.29,1110.87 239.43,1109.96 236.50,1109.18 233.50,1108.54 230.44,1108.05 227.35,1107.69 224.23,1107.47 221.10,1107.40" fill="#846675"/><polygon points="173.20,1127.50 173.21,1126.91 173.23,1126.32 173.27,1125.73 173.32,1125.14 173.39,1124.55 173.47,1123.96 173.56,1123.37 173.67,1122.79 173.80,1122.20 173.94,1121.62 174.09,1121.04 174.26,1120.46 174.45,1119.89 174.64,1119.31 174.86,1118.74 175.08,1118.17 175.32,1117.61 175.58,1117.04 175.85,1116.48 176.13,1115.93 176.43,1115.37 176.74,1114.82 177.06,1114.28 177.40,1113.74 177.40,1127.24 177.06,1127.78 176.74,1128.32 176.43,1128.87 176.13,1129.43 175.85,1129.98 175.58,1130.54 175.32,1131.11 175.08,1131.67 174.86,1132.24 174.64,1132.81 174.45,1133.39 174.26,1133.96 174.09,1134.54 173.94,1135.12 173.80,1135.70 173.67,1136.29 173.56,1136.87 173.47,1137.46 173.39,1138.05 173.32,1138.64 173.27,1139.23 173.23,1139.82 173.21,1140.41 173.20,1141.00" fill="#4A8086"/><polygon points="177.40,1113.74 177.56,1113.49 177.73,1113.24 177.90,1112.99 178.07,1112.74 178.24,1112.49 178.42,1112.24 178.60,1112.00 178.79,1111.75 178.97,1111.51 179.16,1111.27 179.35,1111.03 179.55,1110.79 179.74,1110.55 179.94,1110.31 180.15,1110.07 180.35,1109.84 180.56,1109.60 180.77,1109.37 180.98,1109.14 181.20,1108.91 181.42,1108.68 181.64,1108.45 181.87,1108.22 182.09,1108.00 182.09,1121.50 181.87,1121.72 181.64,1121.95 181.42,1122.18 181.20,1122.41 180.98,1122.64 180.77,1122.87 180.56,1123.10 180.35,1123.34 180.15,1123.57 179.94,1123.81 179.74,1124.05 179.55,1124.29 179.35,1124.53 179.16,1124.77 178.97,1125.01 178.79,1125.25 178.60,1125.50 178.42,1125.74 178.24,1125.99 178.07,1126.24 177.90,1126.49 177.73,1126.74 177.56,1126.99 177.40,1127.24" fill="#6B7D9B"/><polygon points="182.09,1108.00 182.43,1107.68 182.76,1107.36 183.11,1107.04 183.46,1106.72 183.81,1106.41 184.17,1106.10 184.53,1105.80 184.90,1105.49 185.28,1105.19 185.66,1104.90 186.04,1104.60 186.43,1104.31 186.83,1104.03 187.22,1103.74 187.63,1103.46 188.04,1103.19 188.45,1102.91 188.87,1102.64 189.29,1102.38 189.72,1102.11 190.15,1101.86 190.59,1101.60 191.03,1101.35 191.47,1101.10 191.47,1114.60 191.03,1114.85 190.59,1115.10 190.15,1115.36 189.72,1115.61 189.29,1115.88 188.87,1116.14 188.45,1116.41 188.04,1116.69 187.63,1116.96 187.22,1117.24 186.83,1117.53 186.43,1117.81 186.04,1118.10 185.66,1118.40 185.28,1118.69 184.90,1118.99 184.53,1119.30 184.17,1119.60 183.81,1119.91 183.46,1120.22 183.11,1120.54 182.76,1120.86 182.43,1121.18 182.09,1121.50" fill="#976765"/><polygon points="191.47,1101.10 191.52,1101.07 191.57,1101.05 191.61,1101.02 191.66,1100.99 191.71,1100.97 191.76,1100.94 191.81,1100.92 191.85,1100.89 191.90,1100.86 191.95,1100.84 192.00,1100.81 192.05,1100.79 192.09,1100.76 192.14,1100.74 192.19,1100.71 192.24,1100.68 192.29,1100.66 192.34,1100.63 192.38,1100.61 192.43,1100.58 192.48,1100.56 192.53,1100.53 192.58,1100.51 192.63,1100.48 192.63,1113.98 192.58,1114.01 192.53,1114.03 192.48,1114.06 192.43,1114.08 192.38,1114.11 192.34,1114.13 192.29,1114.16 192.24,1114.18 192.19,1114.21 192.14,1114.24 192.09,1114.26 192.05,1114.29 192.00,1114.31 191.95,1114.34 191.90,1114.36 191.85,1114.39 191.81,1114.42 191.76,1114.44 191.71,1114.47 191.66,1114.49 191.61,1114.52 191.57,1114.55 191.52,1114.57 191.47,1114.60" fill="#9E8D5E"/><polygon points="192.63,1100.48 193.66,1099.96 194.71,1099.46 195.78,1098.98 196.87,1098.52 197.97,1098.08 199.09,1097.66 200.23,1097.26 201.38,1096.88 202.54,1096.52 203.72,1096.19 204.91,1095.88 206.11,1095.59 207.32,1095.32 208.54,1095.07 209.77,1094.85 211.01,1094.65 212.26,1094.48 213.51,1094.32 214.77,1094.20 216.03,1094.09 217.29,1094.01 218.56,1093.95 219.83,1093.91 221.10,1093.90 221.10,1107.40 219.83,1107.41 218.56,1107.45 217.29,1107.51 216.03,1107.59 214.77,1107.70 213.51,1107.82 212.26,1107.98 211.01,1108.15 209.77,1108.35 208.54,1108.57 207.32,1108.82 206.11,1109.09 204.91,1109.38 203.72,1109.69 202.54,1110.02 201.38,1110.38 200.23,1110.76 199.09,1111.16 197.97,1111.58 196.87,1112.02 195.78,1112.48 194.71,1112.96 193.66,1113.46 192.63,1113.98" fill="#688670"/><ellipse cx="221.1" cy="1141.0" rx="47.9" ry="33.6" fill="#fff"/></g><polygon points="221.10,1058.30 224.75,1058.35 228.39,1058.49 232.02,1058.72 235.63,1059.05 239.23,1059.48 242.80,1059.99 246.34,1060.60 249.85,1061.30 253.31,1062.09 256.74,1062.97 260.11,1063.93 263.43,1064.99 266.70,1066.13 269.90,1067.35 273.03,1068.65 276.10,1070.04 279.09,1071.50 282.00,1073.04 284.82,1074.66 287.56,1076.34 290.21,1078.10 292.77,1079.92 295.23,1081.81 297.58,1083.76 299.83,1085.77 301.98,1087.84 304.01,1089.96 305.93,1092.13 307.74,1094.35 309.43,1096.62 310.99,1098.93 312.44,1101.27 313.76,1103.66 314.95,1106.07 316.01,1108.52 316.95,1110.99 317.75,1113.48 318.43,1115.99 318.97,1118.52 319.37,1121.06 319.64,1123.61 319.78,1126.16 319.78,1128.72 319.65,1131.27 319.39,1133.82 318.99,1136.36 318.45,1138.89 317.79,1141.41 268.02,1134.25 268.35,1133.03 268.61,1131.80 268.80,1130.57 268.93,1129.33 268.99,1128.09 268.99,1126.85 268.92,1125.61 268.79,1124.37 268.59,1123.14 268.33,1121.91 268.01,1120.69 267.62,1119.48 267.16,1118.28 266.65,1117.10 266.07,1115.92 265.43,1114.77 264.73,1113.63 263.97,1112.51 263.15,1111.41 262.27,1110.33 261.34,1109.27 260.35,1108.24 259.31,1107.24 258.22,1106.26 257.07,1105.31 255.88,1104.40 254.64,1103.51 253.36,1102.66 252.03,1101.84 250.65,1101.06 249.24,1100.31 247.79,1099.60 246.30,1098.93 244.78,1098.29 243.23,1097.70 241.64,1097.15 240.03,1096.64 238.39,1096.17 236.73,1095.74 235.05,1095.36 233.35,1095.02 231.63,1094.72 229.90,1094.47 228.15,1094.27 226.40,1094.11 224.64,1093.99 222.87,1093.92 221.10,1093.90" fill="#D5A6BD" stroke="#D5A6BD" stroke-width="0.3"/><polygon points="317.79,1141.41 317.74,1141.56 317.69,1141.72 317.65,1141.88 317.60,1142.04 317.55,1142.19 317.50,1142.35 317.45,1142.51 317.40,1142.67 317.35,1142.82 317.30,1142.98 317.25,1143.14 317.19,1143.29 317.14,1143.45 317.09,1143.61 317.04,1143.76 316.98,1143.92 316.93,1144.08 316.87,1144.23 316.82,1144.39 316.76,1144.55 316.70,1144.70 316.64,1144.86 316.59,1145.01 316.53,1145.17 316.47,1145.33 316.41,1145.48 316.35,1145.64 316.29,1145.79 316.23,1145.95 316.17,1146.10 316.10,1146.26 316.04,1146.41 315.98,1146.57 315.92,1146.72 315.85,1146.88 315.79,1147.03 315.72,1147.19 315.66,1147.34 315.59,1147.49 315.52,1147.65 315.46,1147.80 315.39,1147.96 315.32,1148.11 315.25,1148.26 315.18,1148.42 315.11,1148.57 315.04,1148.73 314.97,1148.88 266.66,1137.88 266.69,1137.81 266.73,1137.73 266.76,1137.66 266.79,1137.58 266.83,1137.51 266.86,1137.43 266.89,1137.36 266.92,1137.28 266.96,1137.21 266.99,1137.13 267.02,1137.06 267.05,1136.98 267.08,1136.91 267.11,1136.83 267.15,1136.76 267.18,1136.68 267.21,1136.61 267.24,1136.53 267.27,1136.46 267.30,1136.38 267.33,1136.31 267.35,1136.23 267.38,1136.16 267.41,1136.08 267.44,1136.00 267.47,1135.93 267.50,1135.85 267.52,1135.78 267.55,1135.70 267.58,1135.62 267.61,1135.55 267.63,1135.47 267.66,1135.40 267.68,1135.32 267.71,1135.24 267.74,1135.17 267.76,1135.09 267.79,1135.02 267.81,1134.94 267.84,1134.86 267.86,1134.79 267.88,1134.71 267.91,1134.63 267.93,1134.56 267.95,1134.48 267.98,1134.41 268.00,1134.33 268.02,1134.25" fill="#A64D79" stroke="#A64D79" stroke-width="0.3"/><polygon points="314.97,1148.88 314.80,1149.25 314.62,1149.63 314.44,1150.00 314.25,1150.37 314.06,1150.75 313.87,1151.12 313.68,1151.49 313.48,1151.86 313.28,1152.23 313.08,1152.59 312.88,1152.96 312.67,1153.33 312.46,1153.69 312.24,1154.06 312.02,1154.42 311.80,1154.78 311.58,1155.15 311.36,1155.51 311.13,1155.87 310.89,1156.23 310.66,1156.58 310.42,1156.94 310.18,1157.30 309.94,1157.65 309.69,1158.01 309.44,1158.36 309.19,1158.71 308.93,1159.07 308.67,1159.42 308.41,1159.77 308.15,1160.11 307.88,1160.46 307.61,1160.81 307.34,1161.15 307.07,1161.50 306.79,1161.84 306.51,1162.18 306.23,1162.52 305.94,1162.86 305.65,1163.20 305.36,1163.54 305.06,1163.87 304.77,1164.21 304.47,1164.54 304.16,1164.88 303.86,1165.21 303.55,1165.54 303.24,1165.87 260.96,1146.13 261.11,1145.97 261.26,1145.81 261.41,1145.65 261.56,1145.49 261.70,1145.32 261.85,1145.16 261.99,1145.00 262.13,1144.83 262.27,1144.67 262.41,1144.51 262.55,1144.34 262.69,1144.17 262.82,1144.01 262.95,1143.84 263.09,1143.67 263.22,1143.50 263.35,1143.34 263.47,1143.17 263.60,1143.00 263.73,1142.83 263.85,1142.66 263.97,1142.49 264.09,1142.31 264.21,1142.14 264.33,1141.97 264.45,1141.80 264.56,1141.62 264.68,1141.45 264.79,1141.27 264.90,1141.10 265.01,1140.92 265.12,1140.75 265.23,1140.57 265.33,1140.39 265.44,1140.22 265.54,1140.04 265.64,1139.86 265.74,1139.68 265.84,1139.51 265.93,1139.33 266.03,1139.15 266.12,1138.97 266.22,1138.79 266.31,1138.61 266.40,1138.43 266.49,1138.24 266.57,1138.06 266.66,1137.88" fill="#3D85C6" stroke="#3D85C6" stroke-width="0.3"/><polygon points="303.24,1165.87 303.05,1166.07 302.86,1166.26 302.67,1166.46 302.48,1166.66 302.28,1166.86 302.09,1167.06 301.89,1167.25 301.69,1167.45 301.50,1167.64 301.30,1167.84 301.10,1168.03 300.90,1168.23 300.69,1168.42 300.49,1168.61 300.29,1168.81 300.08,1169.00 299.88,1169.19 299.67,1169.38 299.46,1169.57 299.26,1169.76 299.05,1169.95 298.84,1170.14 298.63,1170.33 298.41,1170.52 298.20,1170.70 297.99,1170.89 297.77,1171.08 297.56,1171.26 297.34,1171.45 297.12,1171.63 296.90,1171.82 296.68,1172.00 296.46,1172.18 296.24,1172.37 296.02,1172.55 295.80,1172.73 295.57,1172.91 295.35,1173.09 295.12,1173.27 294.90,1173.45 294.67,1173.63 294.44,1173.81 294.21,1173.99 293.98,1174.17 293.75,1174.34 293.52,1174.52 293.29,1174.69 293.05,1174.87 256.02,1150.50 256.13,1150.41 256.25,1150.33 256.36,1150.24 256.47,1150.16 256.58,1150.07 256.69,1149.99 256.80,1149.90 256.91,1149.81 257.02,1149.73 257.13,1149.64 257.24,1149.55 257.35,1149.46 257.46,1149.37 257.57,1149.29 257.67,1149.20 257.78,1149.11 257.89,1149.02 257.99,1148.93 258.10,1148.84 258.20,1148.75 258.31,1148.66 258.41,1148.57 258.52,1148.48 258.62,1148.39 258.72,1148.30 258.83,1148.20 258.93,1148.11 259.03,1148.02 259.13,1147.93 259.23,1147.83 259.33,1147.74 259.43,1147.65 259.53,1147.56 259.63,1147.46 259.73,1147.37 259.83,1147.27 259.92,1147.18 260.02,1147.09 260.12,1146.99 260.21,1146.90 260.31,1146.80 260.40,1146.71 260.50,1146.61 260.59,1146.51 260.69,1146.42 260.78,1146.32 260.87,1146.23 260.96,1146.13" fill="#F6B26B" stroke="#F6B26B" stroke-width="0.3"/><polygon points="293.05,1174.87 292.60,1175.20 292.15,1175.53 291.70,1175.86 291.25,1176.18 290.79,1176.51 290.32,1176.83 289.86,1177.15 289.39,1177.46 288.92,1177.78 288.44,1178.09 287.97,1178.40 287.49,1178.71 287.00,1179.01 286.52,1179.32 286.03,1179.62 285.54,1179.92 285.04,1180.21 284.55,1180.51 284.05,1180.80 283.54,1181.09 283.04,1181.38 282.53,1181.66 282.02,1181.95 281.51,1182.23 280.99,1182.50 280.47,1182.78 279.95,1183.05 279.43,1183.32 278.90,1183.59 278.37,1183.86 277.84,1184.12 277.31,1184.38 276.77,1184.64 276.23,1184.90 275.69,1185.15 275.15,1185.40 274.60,1185.65 274.06,1185.90 273.51,1186.14 272.95,1186.38 272.40,1186.62 271.84,1186.86 271.28,1187.09 270.72,1187.32 270.16,1187.55 269.59,1187.77 269.02,1188.00 268.45,1188.22 244.08,1156.98 244.36,1156.87 244.63,1156.77 244.91,1156.66 245.18,1156.55 245.45,1156.43 245.73,1156.32 246.00,1156.21 246.26,1156.09 246.53,1155.97 246.80,1155.85 247.07,1155.73 247.33,1155.61 247.59,1155.49 247.86,1155.37 248.12,1155.24 248.38,1155.12 248.64,1154.99 248.90,1154.86 249.15,1154.74 249.41,1154.61 249.66,1154.47 249.91,1154.34 250.17,1154.21 250.42,1154.07 250.67,1153.94 250.91,1153.80 251.16,1153.66 251.40,1153.52 251.65,1153.38 251.89,1153.24 252.13,1153.10 252.37,1152.95 252.61,1152.81 252.85,1152.66 253.08,1152.51 253.32,1152.36 253.55,1152.21 253.78,1152.06 254.01,1151.91 254.24,1151.76 254.47,1151.61 254.69,1151.45 254.92,1151.29 255.14,1151.14 255.36,1150.98 255.58,1150.82 255.80,1150.66 256.02,1150.50" fill="#FF6D01" stroke="#FF6D01" stroke-width="0.3"/><polygon points="268.45,1188.22 268.10,1188.35 267.75,1188.48 267.39,1188.62 267.04,1188.75 266.69,1188.88 266.33,1189.01 265.97,1189.13 265.62,1189.26 265.26,1189.39 264.90,1189.51 264.54,1189.64 264.18,1189.76 263.82,1189.88 263.46,1190.00 263.09,1190.12 262.73,1190.24 262.37,1190.36 262.00,1190.48 261.64,1190.59 261.27,1190.71 260.90,1190.82 260.54,1190.94 260.17,1191.05 259.80,1191.16 259.43,1191.27 259.06,1191.38 258.69,1191.48 258.32,1191.59 257.95,1191.70 257.58,1191.80 257.20,1191.90 256.83,1192.01 256.46,1192.11 256.08,1192.21 255.71,1192.31 255.33,1192.40 254.96,1192.50 254.58,1192.60 254.20,1192.69 253.82,1192.79 253.44,1192.88 253.07,1192.97 252.69,1193.06 252.31,1193.15 251.93,1193.24 251.54,1193.33 251.16,1193.41 250.78,1193.50 235.50,1159.54 235.69,1159.50 235.88,1159.46 236.06,1159.42 236.24,1159.38 236.43,1159.33 236.61,1159.29 236.80,1159.24 236.98,1159.20 237.16,1159.15 237.35,1159.11 237.53,1159.06 237.71,1159.01 237.90,1158.97 238.08,1158.92 238.26,1158.87 238.44,1158.82 238.62,1158.77 238.80,1158.72 238.98,1158.67 239.16,1158.62 239.34,1158.57 239.52,1158.52 239.70,1158.46 239.88,1158.41 240.06,1158.36 240.24,1158.30 240.42,1158.25 240.60,1158.19 240.77,1158.14 240.95,1158.08 241.13,1158.02 241.30,1157.97 241.48,1157.91 241.66,1157.85 241.83,1157.79 242.01,1157.73 242.18,1157.67 242.36,1157.61 242.53,1157.55 242.70,1157.49 242.88,1157.43 243.05,1157.36 243.22,1157.30 243.40,1157.24 243.57,1157.17 243.74,1157.11 243.91,1157.05 244.08,1156.98" fill="#46BDC6" stroke="#46BDC6" stroke-width="0.3"/><polygon points="250.78,1193.50 250.11,1193.64 249.44,1193.79 248.77,1193.93 248.09,1194.06 247.42,1194.19 246.74,1194.32 246.06,1194.45 245.38,1194.57 244.70,1194.69 244.02,1194.81 243.34,1194.92 242.66,1195.03 241.97,1195.14 241.29,1195.24 240.60,1195.34 239.91,1195.43 239.22,1195.52 238.53,1195.61 237.84,1195.70 237.15,1195.78 236.46,1195.86 235.76,1195.93 235.07,1196.00 234.38,1196.07 233.68,1196.14 232.98,1196.20 232.29,1196.25 231.59,1196.31 230.89,1196.36 230.19,1196.41 229.50,1196.45 228.80,1196.49 228.10,1196.53 227.40,1196.56 226.70,1196.59 226.00,1196.61 225.30,1196.64 224.60,1196.66 223.90,1196.67 223.19,1196.68 222.49,1196.69 221.79,1196.70 221.09,1196.70 220.39,1196.70 219.69,1196.69 218.99,1196.68 218.29,1196.67 217.58,1196.66 219.39,1161.08 219.73,1161.09 220.07,1161.09 220.41,1161.10 220.75,1161.10 221.10,1161.10 221.44,1161.10 221.78,1161.10 222.12,1161.09 222.46,1161.09 222.80,1161.08 223.14,1161.07 223.48,1161.06 223.82,1161.05 224.16,1161.03 224.50,1161.02 224.84,1161.00 225.17,1160.98 225.51,1160.96 225.85,1160.93 226.19,1160.91 226.53,1160.88 226.87,1160.86 227.21,1160.83 227.54,1160.79 227.88,1160.76 228.22,1160.73 228.55,1160.69 228.89,1160.65 229.22,1160.61 229.56,1160.57 229.89,1160.53 230.23,1160.48 230.56,1160.44 230.90,1160.39 231.23,1160.34 231.56,1160.29 231.89,1160.24 232.22,1160.18 232.56,1160.12 232.89,1160.07 233.22,1160.01 233.54,1159.95 233.87,1159.88 234.20,1159.82 234.53,1159.75 234.85,1159.69 235.18,1159.62 235.50,1159.54" fill="#7BAAF7" stroke="#7BAAF7" stroke-width="0.3"/><polygon points="217.58,1196.66 217.00,1196.64 216.42,1196.62 215.83,1196.60 215.25,1196.58 214.66,1196.55 214.08,1196.52 213.50,1196.49 212.91,1196.46 212.33,1196.43 211.75,1196.39 211.16,1196.35 210.58,1196.31 210.00,1196.26 209.42,1196.21 208.84,1196.16 208.26,1196.11 207.68,1196.06 207.10,1196.00 206.52,1195.94 205.94,1195.88 205.36,1195.81 204.79,1195.75 204.21,1195.68 203.63,1195.61 203.06,1195.53 202.48,1195.46 201.91,1195.38 201.34,1195.30 200.76,1195.22 200.19,1195.13 199.62,1195.04 199.05,1194.95 198.48,1194.86 197.91,1194.76 197.34,1194.67 196.77,1194.57 196.21,1194.46 195.64,1194.36 195.08,1194.25 194.51,1194.14 193.95,1194.03 193.39,1193.92 192.83,1193.80 192.27,1193.68 191.71,1193.56 191.15,1193.44 190.59,1193.31 190.04,1193.18 206.03,1159.39 206.30,1159.45 206.57,1159.52 206.84,1159.58 207.11,1159.63 207.38,1159.69 207.65,1159.75 207.92,1159.80 208.20,1159.86 208.47,1159.91 208.75,1159.96 209.02,1160.01 209.29,1160.06 209.57,1160.11 209.85,1160.16 210.12,1160.21 210.40,1160.25 210.68,1160.29 210.95,1160.34 211.23,1160.38 211.51,1160.42 211.79,1160.46 212.07,1160.50 212.34,1160.53 212.62,1160.57 212.90,1160.60 213.18,1160.64 213.46,1160.67 213.74,1160.70 214.02,1160.73 214.31,1160.76 214.59,1160.79 214.87,1160.81 215.15,1160.84 215.43,1160.86 215.71,1160.89 216.00,1160.91 216.28,1160.93 216.56,1160.95 216.84,1160.97 217.13,1160.98 217.41,1161.00 217.69,1161.01 217.98,1161.03 218.26,1161.04 218.54,1161.05 218.83,1161.06 219.11,1161.07 219.39,1161.08" fill="#E67C73" stroke="#E67C73" stroke-width="0.3"/><polygon points="190.04,1193.18 189.89,1193.15 189.74,1193.12 189.60,1193.08 189.45,1193.05 189.30,1193.01 189.16,1192.98 189.01,1192.94 188.87,1192.91 188.72,1192.87 188.57,1192.83 188.43,1192.80 188.28,1192.76 188.14,1192.73 187.99,1192.69 187.84,1192.65 187.70,1192.62 187.55,1192.58 187.41,1192.54 187.26,1192.51 187.12,1192.47 186.97,1192.43 186.83,1192.39 186.68,1192.36 186.54,1192.32 186.39,1192.28 186.25,1192.24 186.10,1192.20 185.96,1192.16 185.81,1192.13 185.67,1192.09 185.52,1192.05 185.38,1192.01 185.24,1191.97 185.09,1191.93 184.95,1191.89 184.80,1191.85 184.66,1191.81 184.52,1191.77 184.37,1191.73 184.23,1191.69 184.09,1191.65 183.94,1191.61 183.80,1191.57 183.66,1191.53 183.51,1191.49 183.37,1191.44 183.23,1191.40 183.08,1191.36 202.65,1158.51 202.72,1158.53 202.79,1158.55 202.86,1158.57 202.93,1158.59 203.00,1158.61 203.07,1158.63 203.14,1158.65 203.21,1158.67 203.28,1158.69 203.35,1158.71 203.42,1158.73 203.48,1158.75 203.55,1158.76 203.62,1158.78 203.69,1158.80 203.76,1158.82 203.83,1158.84 203.90,1158.86 203.97,1158.88 204.04,1158.90 204.12,1158.92 204.19,1158.94 204.26,1158.95 204.33,1158.97 204.40,1158.99 204.47,1159.01 204.54,1159.03 204.61,1159.05 204.68,1159.06 204.75,1159.08 204.82,1159.10 204.89,1159.12 204.96,1159.14 205.03,1159.15 205.10,1159.17 205.17,1159.19 205.24,1159.21 205.31,1159.22 205.39,1159.24 205.46,1159.26 205.53,1159.27 205.60,1159.29 205.67,1159.31 205.74,1159.33 205.81,1159.34 205.88,1159.36 205.95,1159.38 206.03,1159.39" fill="#FCD04F" stroke="#FCD04F" stroke-width="0.3"/><polygon points="183.08,1191.36 182.12,1191.07 181.16,1190.78 180.20,1190.48 179.25,1190.17 178.30,1189.86 177.36,1189.53 176.42,1189.20 175.49,1188.87 174.56,1188.53 173.64,1188.18 172.72,1187.82 171.81,1187.45 170.91,1187.08 170.01,1186.71 169.11,1186.32 168.23,1185.93 167.34,1185.54 166.47,1185.13 165.60,1184.72 164.73,1184.31 163.88,1183.88 163.02,1183.45 162.18,1183.02 161.34,1182.58 160.51,1182.13 159.69,1181.67 158.87,1181.21 158.06,1180.75 157.26,1180.27 156.46,1179.80 155.67,1179.31 154.89,1178.82 154.12,1178.32 153.35,1177.82 152.59,1177.32 151.84,1176.80 151.10,1176.28 150.36,1175.76 149.64,1175.23 148.92,1174.70 148.21,1174.16 147.50,1173.61 146.81,1173.06 146.12,1172.50 145.45,1171.94 144.78,1171.38 144.12,1170.81 143.46,1170.23 183.42,1148.25 183.74,1148.53 184.06,1148.80 184.38,1149.08 184.71,1149.35 185.05,1149.62 185.38,1149.89 185.72,1150.15 186.07,1150.42 186.42,1150.68 186.77,1150.93 187.13,1151.19 187.49,1151.44 187.85,1151.69 188.22,1151.93 188.59,1152.18 188.97,1152.42 189.35,1152.66 189.73,1152.89 190.12,1153.12 190.51,1153.35 190.90,1153.58 191.30,1153.80 191.70,1154.02 192.10,1154.24 192.51,1154.46 192.92,1154.67 193.33,1154.88 193.74,1155.08 194.16,1155.28 194.59,1155.48 195.01,1155.68 195.44,1155.87 195.87,1156.06 196.30,1156.25 196.74,1156.43 197.18,1156.61 197.62,1156.79 198.07,1156.96 198.52,1157.13 198.97,1157.30 199.42,1157.46 199.87,1157.62 200.33,1157.78 200.79,1157.93 201.25,1158.08 201.72,1158.23 202.18,1158.37 202.65,1158.51" fill="#57BB8A" stroke="#57BB8A" stroke-width="0.3"/><polygon points="143.46,1170.23 143.22,1170.01 142.97,1169.78 142.72,1169.56 142.48,1169.33 142.23,1169.11 141.99,1168.88 141.75,1168.65 141.51,1168.42 141.27,1168.19 141.03,1167.96 140.80,1167.73 140.56,1167.50 140.33,1167.27 140.10,1167.04 139.87,1166.81 139.64,1166.57 139.41,1166.34 139.18,1166.10 138.96,1165.87 138.74,1165.63 138.51,1165.39 138.29,1165.16 138.07,1164.92 137.85,1164.68 137.64,1164.44 137.42,1164.20 137.21,1163.96 137.00,1163.72 136.79,1163.47 136.58,1163.23 136.37,1162.99 136.16,1162.74 135.96,1162.50 135.75,1162.26 135.55,1162.01 135.35,1161.76 135.15,1161.52 134.95,1161.27 134.75,1161.02 134.56,1160.77 134.36,1160.52 134.17,1160.28 133.98,1160.03 133.79,1159.77 133.60,1159.52 133.42,1159.27 133.23,1159.02 133.05,1158.77 178.37,1142.68 178.46,1142.80 178.55,1142.93 178.64,1143.05 178.73,1143.17 178.82,1143.29 178.91,1143.41 179.01,1143.54 179.10,1143.66 179.20,1143.78 179.29,1143.90 179.39,1144.02 179.48,1144.14 179.58,1144.26 179.68,1144.38 179.78,1144.49 179.88,1144.61 179.98,1144.73 180.08,1144.85 180.18,1144.97 180.28,1145.08 180.39,1145.20 180.49,1145.32 180.60,1145.44 180.70,1145.55 180.81,1145.67 180.91,1145.78 181.02,1145.90 181.13,1146.01 181.24,1146.13 181.35,1146.24 181.46,1146.36 181.57,1146.47 181.68,1146.58 181.79,1146.70 181.90,1146.81 182.01,1146.92 182.13,1147.04 182.24,1147.15 182.36,1147.26 182.47,1147.37 182.59,1147.48 182.71,1147.59 182.82,1147.70 182.94,1147.81 183.06,1147.92 183.18,1148.03 183.30,1148.14 183.42,1148.25" fill="#FF994D" stroke="#FF994D" stroke-width="0.3"/><polygon points="133.05,1158.77 132.24,1157.62 131.46,1156.45 130.70,1155.28 129.98,1154.10 129.30,1152.91 128.64,1151.71 128.01,1150.51 127.42,1149.29 126.86,1148.07 126.33,1146.84 125.84,1145.60 125.37,1144.36 124.94,1143.11 124.55,1141.86 124.18,1140.60 123.85,1139.34 123.56,1138.07 123.29,1136.80 123.07,1135.52 122.87,1134.25 122.71,1132.97 122.58,1131.69 122.49,1130.40 122.43,1129.12 122.40,1127.84 122.41,1126.55 122.45,1125.27 122.53,1123.98 122.64,1122.70 122.78,1121.42 122.96,1120.14 123.17,1118.87 123.42,1117.60 123.70,1116.33 124.01,1115.06 124.35,1113.80 124.73,1112.54 125.15,1111.29 125.59,1110.05 126.07,1108.81 126.58,1107.57 127.12,1106.35 127.70,1105.13 128.31,1103.92 128.95,1102.71 129.62,1101.52 130.32,1100.33 131.06,1099.16 177.40,1113.74 177.05,1114.31 176.70,1114.88 176.38,1115.46 176.07,1116.05 175.77,1116.64 175.49,1117.23 175.23,1117.82 174.98,1118.42 174.75,1119.03 174.53,1119.63 174.33,1120.24 174.15,1120.85 173.98,1121.46 173.83,1122.07 173.69,1122.69 173.57,1123.31 173.47,1123.93 173.39,1124.55 173.32,1125.17 173.26,1125.79 173.22,1126.42 173.20,1127.04 173.20,1127.66 173.21,1128.29 173.24,1128.91 173.29,1129.53 173.35,1130.15 173.43,1130.78 173.52,1131.40 173.63,1132.01 173.76,1132.63 173.91,1133.25 174.07,1133.86 174.24,1134.47 174.43,1135.08 174.64,1135.69 174.87,1136.29 175.11,1136.89 175.36,1137.49 175.64,1138.08 175.92,1138.67 176.23,1139.26 176.55,1139.84 176.88,1140.42 177.23,1140.99 177.59,1141.56 177.97,1142.12 178.37,1142.68" fill="#78CFD9" stroke="#78CFD9" stroke-width="0.3"/><polygon points="131.06,1099.16 131.23,1098.90 131.39,1098.64 131.56,1098.38 131.74,1098.12 131.91,1097.87 132.08,1097.61 132.26,1097.35 132.44,1097.10 132.61,1096.84 132.80,1096.59 132.98,1096.33 133.16,1096.08 133.35,1095.83 133.53,1095.57 133.72,1095.32 133.91,1095.07 134.10,1094.82 134.29,1094.57 134.49,1094.32 134.68,1094.07 134.88,1093.82 135.08,1093.57 135.27,1093.33 135.48,1093.08 135.68,1092.83 135.88,1092.59 136.09,1092.34 136.29,1092.10 136.50,1091.85 136.71,1091.61 136.92,1091.37 137.13,1091.13 137.35,1090.88 137.56,1090.64 137.78,1090.40 138.00,1090.16 138.22,1089.92 138.44,1089.69 138.66,1089.45 138.88,1089.21 139.11,1088.97 139.34,1088.74 139.56,1088.50 139.79,1088.27 140.02,1088.04 140.26,1087.80 140.49,1087.57 140.72,1087.34 182.09,1108.00 181.98,1108.11 181.87,1108.22 181.75,1108.34 181.64,1108.45 181.53,1108.57 181.42,1108.68 181.31,1108.79 181.20,1108.91 181.09,1109.02 180.98,1109.14 180.88,1109.26 180.77,1109.37 180.66,1109.49 180.56,1109.60 180.45,1109.72 180.35,1109.84 180.25,1109.96 180.15,1110.07 180.04,1110.19 179.94,1110.31 179.84,1110.43 179.74,1110.55 179.64,1110.67 179.55,1110.79 179.45,1110.91 179.35,1111.03 179.26,1111.15 179.16,1111.27 179.07,1111.39 178.97,1111.51 178.88,1111.63 178.79,1111.75 178.69,1111.88 178.60,1112.00 178.51,1112.12 178.42,1112.24 178.33,1112.37 178.24,1112.49 178.16,1112.61 178.07,1112.74 177.98,1112.86 177.90,1112.99 177.81,1113.11 177.73,1113.24 177.65,1113.36 177.56,1113.49 177.48,1113.61 177.40,1113.74" fill="#AECBFA" stroke="#AECBFA" stroke-width="0.3"/><polygon points="140.72,1087.34 141.06,1087.00 141.41,1086.67 141.76,1086.34 142.11,1086.01 142.46,1085.68 142.81,1085.36 143.17,1085.03 143.53,1084.71 143.89,1084.39 144.26,1084.07 144.63,1083.75 145.00,1083.43 145.37,1083.12 145.75,1082.80 146.13,1082.49 146.51,1082.18 146.90,1081.87 147.29,1081.56 147.68,1081.26 148.07,1080.95 148.46,1080.65 148.86,1080.35 149.26,1080.05 149.66,1079.75 150.07,1079.45 150.48,1079.16 150.89,1078.87 151.30,1078.57 151.71,1078.29 152.13,1078.00 152.55,1077.71 152.97,1077.43 153.40,1077.15 153.83,1076.86 154.26,1076.59 154.69,1076.31 155.12,1076.03 155.56,1075.76 156.00,1075.49 156.44,1075.22 156.88,1074.95 157.33,1074.68 157.78,1074.42 158.23,1074.16 158.68,1073.90 159.13,1073.64 159.59,1073.38 160.05,1073.13 191.47,1101.10 191.25,1101.22 191.03,1101.35 190.81,1101.47 190.59,1101.60 190.37,1101.73 190.15,1101.86 189.93,1101.98 189.72,1102.11 189.50,1102.25 189.29,1102.38 189.08,1102.51 188.87,1102.64 188.66,1102.78 188.45,1102.91 188.24,1103.05 188.04,1103.19 187.83,1103.33 187.63,1103.46 187.43,1103.60 187.22,1103.74 187.02,1103.89 186.83,1104.03 186.63,1104.17 186.43,1104.31 186.24,1104.46 186.04,1104.60 185.85,1104.75 185.66,1104.90 185.47,1105.05 185.28,1105.19 185.09,1105.34 184.90,1105.49 184.72,1105.65 184.53,1105.80 184.35,1105.95 184.17,1106.10 183.99,1106.26 183.81,1106.41 183.63,1106.57 183.46,1106.72 183.28,1106.88 183.11,1107.04 182.93,1107.20 182.76,1107.36 182.59,1107.52 182.43,1107.68 182.26,1107.84 182.09,1108.00" fill="#F4A7A3" stroke="#F4A7A3" stroke-width="0.3"/><polygon points="160.05,1073.13 160.10,1073.10 160.15,1073.07 160.20,1073.05 160.24,1073.02 160.29,1072.99 160.34,1072.96 160.39,1072.94 160.44,1072.91 160.49,1072.88 160.54,1072.86 160.59,1072.83 160.64,1072.80 160.69,1072.78 160.74,1072.75 160.79,1072.72 160.84,1072.70 160.89,1072.67 160.93,1072.64 160.98,1072.62 161.03,1072.59 161.08,1072.56 161.13,1072.54 161.18,1072.51 161.23,1072.48 161.28,1072.46 161.33,1072.43 161.38,1072.40 161.43,1072.38 161.48,1072.35 161.53,1072.32 161.58,1072.30 161.63,1072.27 161.68,1072.25 161.73,1072.22 161.78,1072.19 161.83,1072.17 161.88,1072.14 161.93,1072.11 161.98,1072.09 162.03,1072.06 162.08,1072.04 162.13,1072.01 162.18,1071.98 162.23,1071.96 162.28,1071.93 162.33,1071.90 162.38,1071.88 162.43,1071.85 192.63,1100.48 192.60,1100.49 192.58,1100.51 192.55,1100.52 192.53,1100.53 192.51,1100.54 192.48,1100.56 192.46,1100.57 192.43,1100.58 192.41,1100.59 192.38,1100.61 192.36,1100.62 192.34,1100.63 192.31,1100.65 192.29,1100.66 192.26,1100.67 192.24,1100.68 192.21,1100.70 192.19,1100.71 192.17,1100.72 192.14,1100.74 192.12,1100.75 192.09,1100.76 192.07,1100.77 192.05,1100.79 192.02,1100.80 192.00,1100.81 191.97,1100.83 191.95,1100.84 191.93,1100.85 191.90,1100.86 191.88,1100.88 191.85,1100.89 191.83,1100.90 191.81,1100.92 191.78,1100.93 191.76,1100.94 191.73,1100.96 191.71,1100.97 191.69,1100.98 191.66,1100.99 191.64,1101.01 191.61,1101.02 191.59,1101.03 191.57,1101.05 191.54,1101.06 191.52,1101.07 191.49,1101.09 191.47,1101.10" fill="#FFE599" stroke="#FFE599" stroke-width="0.3"/><polygon points="162.43,1071.85 163.49,1071.31 164.56,1070.78 165.63,1070.26 166.72,1069.75 167.82,1069.25 168.92,1068.76 170.04,1068.28 171.16,1067.81 172.30,1067.35 173.44,1066.90 174.59,1066.46 175.75,1066.04 176.92,1065.62 178.09,1065.22 179.27,1064.82 180.46,1064.44 181.66,1064.07 182.86,1063.70 184.07,1063.35 185.29,1063.02 186.51,1062.69 187.74,1062.37 188.97,1062.07 190.21,1061.78 191.46,1061.49 192.71,1061.22 193.97,1060.97 195.23,1060.72 196.49,1060.49 197.76,1060.26 199.04,1060.05 200.31,1059.85 201.60,1059.66 202.88,1059.49 204.17,1059.33 205.46,1059.17 206.75,1059.03 208.05,1058.91 209.35,1058.79 210.65,1058.69 211.95,1058.60 213.25,1058.52 214.56,1058.45 215.87,1058.40 217.17,1058.35 218.48,1058.32 219.79,1058.31 221.10,1058.30 221.10,1093.90 220.46,1093.90 219.83,1093.91 219.19,1093.93 218.56,1093.95 217.93,1093.97 217.29,1094.01 216.66,1094.04 216.03,1094.09 215.40,1094.14 214.77,1094.20 214.14,1094.26 213.51,1094.32 212.88,1094.40 212.26,1094.48 211.63,1094.56 211.01,1094.65 210.39,1094.75 209.77,1094.85 209.16,1094.96 208.54,1095.07 207.93,1095.19 207.32,1095.32 206.72,1095.45 206.11,1095.59 205.51,1095.73 204.91,1095.88 204.31,1096.03 203.72,1096.19 203.13,1096.35 202.54,1096.52 201.96,1096.70 201.38,1096.88 200.80,1097.07 200.23,1097.26 199.66,1097.45 199.09,1097.66 198.53,1097.86 197.97,1098.08 197.42,1098.29 196.87,1098.52 196.32,1098.75 195.78,1098.98 195.24,1099.22 194.71,1099.46 194.18,1099.71 193.66,1099.96 193.14,1100.22 192.63,1100.48" fill="#A8D9B5" stroke="#A8D9B5" stroke-width="0.3"/><path d="M23 1058.6 L120.8 1058.6 L192.5 1064.5" fill="none" stroke="#666" stroke-width="0.7"/><text x="23" y="1057" font-size="6.3" fill="#222">Curso + Q Pão</text><text x="23" y="1064.0" font-size="6.3" fill="#BBBBBB">10,1%</text><path d="M23 1072.5 L120.8 1072.5 L165 1074.8" fill="none" stroke="#666" stroke-width="0.7"/><text x="23" y="1070.7" font-size="6.3" fill="#222">Outros</text><text x="23" y="1077.7" font-size="6.3" fill="#BBBBBB">0,5%</text><path d="M23 1086.5 L120.8 1086.5 L154.4 1081.6" fill="none" stroke="#666" stroke-width="0.7"/><text x="23" y="1084.5" font-size="6.3" fill="#222">Embalagens</text><text x="23" y="1091.5" font-size="6.3" fill="#BBBBBB">4,5%</text><path d="M23 1101.5 L120.8 1101.5 L140.6 1094.2" fill="none" stroke="#666" stroke-width="0.7"/><text x="23" y="1099.4" font-size="6.3" fill="#222">Ar condicionado (3a parcela)</text><text x="23" y="1106.4" font-size="6.3" fill="#BBBBBB">3,1%</text><path d="M23 1128.7 L128.4 1128.7" fill="none" stroke="#666" stroke-width="0.7"/><text x="23" y="1126.7" font-size="6.3" fill="#222">Curso Cozinha Forno &amp; Fogão +...</text><text x="23" y="1133.7" font-size="6.3" fill="#BBBBBB">14,2%</text><path d="M23 1155.2 L120.8 1155.2 L143.7 1162.6" fill="none" stroke="#666" stroke-width="0.7"/><text x="23" y="1153.3" font-size="6.3" fill="#222">Insumos cozinha (proteínas)</text><text x="23" y="1160.3" font-size="6.3" fill="#BBBBBB">3,1%</text><path d="M23 1169.4 L120.8 1169.4 L163.5 1178" fill="none" stroke="#666" stroke-width="0.7"/><text x="23" y="1167.4" font-size="6.3" fill="#222">Insumos cozinha (doações)</text><text x="23" y="1174.4" font-size="6.3" fill="#BBBBBB">8,1%</text><path d="M23 1184.2 L120.8 1184.2 L189.5 1188.5" fill="none" stroke="#666" stroke-width="0.7"/><text x="23" y="1182.2" font-size="6.3" fill="#222">Gás</text><text x="23" y="1189.2" font-size="6.3" fill="#BBBBBB">1,2%</text><path d="M23 1197.7 L120.8 1197.7 L158 1195" fill="none" stroke="#666" stroke-width="0.7"/><text x="23" y="1195.7" font-size="6.3" fill="#222">Contabilidade + Conta Azul</text><text x="23" y="1202.7" font-size="6.3" fill="#BBBBBB">4,5%</text><path d="M419.2 1085.5 L300.2 1085.5 L293 1084.5" fill="none" stroke="#666" stroke-width="0.7"/><text x="419.2" y="1083.6" font-size="6.3" fill="#222" text-anchor="end">Salários e encargos</text><text x="419.2" y="1091.0" font-size="6.3" fill="#BBBBBB" text-anchor="end">28,2%</text><path d="M419.2 1132 L323.9 1132 L314.7 1141.7" fill="none" stroke="#666" stroke-width="0.7"/><text x="419.2" y="1130.2" font-size="6.3" fill="#222" text-anchor="end">Manutenção e materiais sede</text><text x="419.2" y="1137.6" font-size="6.3" fill="#BBBBBB" text-anchor="end">1,8%</text><path d="M419.2 1146.3 L322.6 1146.3 L316 1150.2" fill="none" stroke="#666" stroke-width="0.7"/><text x="419.2" y="1144.5" font-size="6.3" fill="#222" text-anchor="end">Comunicação</text><text x="419.2" y="1151.9" font-size="6.3" fill="#BBBBBB" text-anchor="end">4,4%</text><path d="M419.2 1160.5 L322.6 1160.5 L314.7 1162.7" fill="none" stroke="#666" stroke-width="0.7"/><text x="419.2" y="1158.7" font-size="6.3" fill="#222" text-anchor="end">Agua, luz, internet sede</text><text x="419.2" y="1166.1" font-size="6.3" fill="#BBBBBB" text-anchor="end">2,6%</text><path d="M419.2 1175.2 L305.5 1175.2 L296.3 1178" fill="none" stroke="#666" stroke-width="0.7"/><text x="419.2" y="1173.4" font-size="6.3" fill="#222" text-anchor="end">Insumos cozinha (secos)</text><text x="419.2" y="1180.8" font-size="6.3" fill="#BBBBBB" text-anchor="end">5,0%</text><path d="M419.2 1189.5 L318.6 1189.5 L292.4 1186" fill="none" stroke="#666" stroke-width="0.7"/><text x="419.2" y="1187.7" font-size="6.3" fill="#222" text-anchor="end">Transportes</text><text x="419.2" y="1195.1" font-size="6.3" fill="#BBBBBB" text-anchor="end">3,1%</text><path d="M419.2 1203.5 L318.6 1203.5 L275.3 1197" fill="none" stroke="#666" stroke-width="0.7"/><text x="419.2" y="1201.7" font-size="6.3" fill="#222" text-anchor="end">Aluguel</text><text x="419.2" y="1209.1" font-size="6.3" fill="#BBBBBB" text-anchor="end">5,4%</text></svg>
<div style="position:absolute;left:1078.5px;top:1225.5px;width:4px;height:4px;background:#000;border-radius:50%;"></div>
</body></html>
